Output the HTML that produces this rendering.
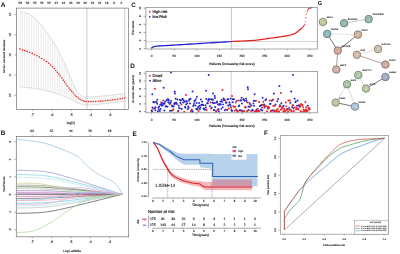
<!DOCTYPE html>
<html><head><meta charset="utf-8"><style>
html,body{margin:0;padding:0;background:#fff;width:400px;height:254px;overflow:hidden}
svg{display:block;filter:blur(0.2px)}
text{font-family:"Liberation Sans",sans-serif;text-rendering:geometricPrecision}
</style></head><body>
<svg width="400" height="254" viewBox="0 0 400 254">
<rect width="400" height="254" fill="#fff"/>
<text x="0.7" y="7" font-size="6.6" text-anchor="start" fill="#111" font-weight="bold" >A</text>
<line x1="20" y1="11.8" x2="20" y2="87" stroke="#dadada" stroke-width="0.55" />
<line x1="22.33" y1="12.26" x2="22.33" y2="87.2" stroke="#dadada" stroke-width="0.55" />
<line x1="24.67" y1="12.76" x2="24.67" y2="87.38" stroke="#dadada" stroke-width="0.55" />
<line x1="27" y1="13.4" x2="27" y2="87.58" stroke="#dadada" stroke-width="0.55" />
<line x1="29.33" y1="14.34" x2="29.33" y2="87.8" stroke="#dadada" stroke-width="0.55" />
<line x1="31.67" y1="15.77" x2="31.67" y2="88.05" stroke="#dadada" stroke-width="0.55" />
<line x1="34" y1="17.59" x2="34" y2="88.34" stroke="#dadada" stroke-width="0.55" />
<line x1="36.33" y1="19.72" x2="36.33" y2="88.71" stroke="#dadada" stroke-width="0.55" />
<line x1="38.67" y1="22.11" x2="38.67" y2="89.13" stroke="#dadada" stroke-width="0.55" />
<line x1="41" y1="24.71" x2="41" y2="89.58" stroke="#dadada" stroke-width="0.55" />
<line x1="43.33" y1="27.55" x2="43.33" y2="90.07" stroke="#dadada" stroke-width="0.55" />
<line x1="45.67" y1="30.64" x2="45.67" y2="90.6" stroke="#dadada" stroke-width="0.55" />
<line x1="48" y1="33.94" x2="48" y2="91.16" stroke="#dadada" stroke-width="0.55" />
<line x1="50.33" y1="37.4" x2="50.33" y2="91.76" stroke="#dadada" stroke-width="0.55" />
<line x1="52.67" y1="41.06" x2="52.67" y2="92.41" stroke="#dadada" stroke-width="0.55" />
<line x1="55" y1="44.92" x2="55" y2="93.11" stroke="#dadada" stroke-width="0.55" />
<line x1="57.33" y1="48.91" x2="57.33" y2="93.88" stroke="#dadada" stroke-width="0.55" />
<line x1="59.67" y1="53.01" x2="59.67" y2="94.71" stroke="#dadada" stroke-width="0.55" />
<line x1="62" y1="57.35" x2="62" y2="95.59" stroke="#dadada" stroke-width="0.55" />
<line x1="64.33" y1="62.77" x2="64.33" y2="96.5" stroke="#dadada" stroke-width="0.55" />
<line x1="66.67" y1="68.47" x2="66.67" y2="97.45" stroke="#dadada" stroke-width="0.55" />
<line x1="69" y1="74.18" x2="69" y2="98.43" stroke="#dadada" stroke-width="0.55" />
<line x1="71.33" y1="79.63" x2="71.33" y2="99.53" stroke="#dadada" stroke-width="0.55" />
<line x1="73.67" y1="84.8" x2="73.67" y2="100.73" stroke="#dadada" stroke-width="0.55" />
<line x1="76" y1="89.42" x2="76" y2="101.93" stroke="#dadada" stroke-width="0.55" />
<line x1="78.33" y1="92.63" x2="78.33" y2="103.03" stroke="#dadada" stroke-width="0.55" />
<line x1="80.67" y1="94.79" x2="80.67" y2="103.88" stroke="#dadada" stroke-width="0.55" />
<line x1="83" y1="96.52" x2="83" y2="104.46" stroke="#dadada" stroke-width="0.55" />
<line x1="85.33" y1="97.25" x2="85.33" y2="104.74" stroke="#dadada" stroke-width="0.55" />
<line x1="87.67" y1="97.14" x2="87.67" y2="104.89" stroke="#dadada" stroke-width="0.55" />
<line x1="90" y1="96.99" x2="90" y2="104.89" stroke="#dadada" stroke-width="0.55" />
<line x1="92.33" y1="96.81" x2="92.33" y2="104.78" stroke="#dadada" stroke-width="0.55" />
<line x1="94.67" y1="96.63" x2="94.67" y2="104.62" stroke="#dadada" stroke-width="0.55" />
<line x1="97" y1="96.44" x2="97" y2="104.43" stroke="#dadada" stroke-width="0.55" />
<line x1="99.33" y1="96.25" x2="99.33" y2="104.21" stroke="#dadada" stroke-width="0.55" />
<line x1="101.67" y1="96.06" x2="101.67" y2="103.96" stroke="#dadada" stroke-width="0.55" />
<line x1="104" y1="95.86" x2="104" y2="103.7" stroke="#dadada" stroke-width="0.55" />
<line x1="106.33" y1="95.65" x2="106.33" y2="103.43" stroke="#dadada" stroke-width="0.55" />
<line x1="108.67" y1="95.43" x2="108.67" y2="103.16" stroke="#dadada" stroke-width="0.55" />
<line x1="111" y1="95.2" x2="111" y2="102.88" stroke="#dadada" stroke-width="0.55" />
<line x1="113.33" y1="94.95" x2="113.33" y2="102.58" stroke="#dadada" stroke-width="0.55" />
<line x1="115.67" y1="94.69" x2="115.67" y2="102.27" stroke="#dadada" stroke-width="0.55" />
<line x1="118" y1="94.42" x2="118" y2="101.96" stroke="#dadada" stroke-width="0.55" />
<line x1="120.33" y1="94.15" x2="120.33" y2="101.64" stroke="#dadada" stroke-width="0.55" />
<line x1="122.67" y1="93.87" x2="122.67" y2="101.32" stroke="#dadada" stroke-width="0.55" />
<line x1="125" y1="93.6" x2="125" y2="101" stroke="#dadada" stroke-width="0.55" />
<polyline points="20.2,11.8 20.79,11.95 21.56,12.11 22.46,12.29 23.48,12.49 24.57,12.73 25.71,13.02 26.88,13.36 28.03,13.76 29.15,14.24 30.2,14.8 31.21,15.44 32.21,16.16 33.22,16.94 34.23,17.78 35.24,18.69 36.26,19.64 37.27,20.65 38.28,21.69 39.29,22.78 40.3,23.9 41.31,25.06 42.32,26.28 43.33,27.54 44.34,28.85 45.35,30.21 46.36,31.6 47.37,33.03 48.38,34.49 49.39,35.98 50.4,37.5 51.44,39.11 52.53,40.83 53.64,42.65 54.76,44.51 55.86,46.38 56.94,48.22 57.96,49.99 58.9,51.65 59.76,53.17 60.5,54.5 61.12,55.63 61.62,56.59 62.04,57.42 62.38,58.14 62.66,58.78 62.92,59.38 63.16,59.98 63.41,60.59 63.68,61.25 64,62 64.35,62.8 64.69,63.62 65.03,64.45 65.38,65.28 65.72,66.12 66.06,66.98 66.41,67.84 66.77,68.72 67.13,69.61 67.5,70.5 67.87,71.4 68.24,72.31 68.62,73.23 68.99,74.16 69.38,75.09 69.77,76.04 70.17,77.01 70.6,77.99 71.04,78.98 71.5,80 71.99,81.06 72.49,82.19 73.01,83.35 73.55,84.54 74.1,85.73 74.66,86.9 75.24,88.03 75.82,89.11 76.41,90.1 77,91 77.62,91.81 78.28,92.58 78.97,93.29 79.68,93.95 80.38,94.56 81.07,95.12 81.73,95.62 82.35,96.07 82.91,96.46 83.4,96.8 83.79,97.06 84.06,97.24 84.26,97.35 84.41,97.4 84.54,97.4 84.68,97.37 84.87,97.32 85.13,97.27 85.5,97.22 86,97.2 86.61,97.18 87.29,97.16 88.04,97.12 88.85,97.07 89.72,97.01 90.66,96.94 91.66,96.86 92.71,96.78 93.83,96.69 95,96.6 96.26,96.5 97.62,96.39 99.06,96.27 100.57,96.15 102.12,96.02 103.71,95.88 105.31,95.74 106.9,95.6 108.47,95.45 110,95.3 111.57,95.14 113.24,94.96 114.97,94.77 116.72,94.57 118.44,94.37 120.08,94.18 121.6,94 122.96,93.84 124.11,93.7 125,93.6" stroke="#cfcfcf" stroke-width="0.7" fill="none" stroke-linejoin="round" stroke-linecap="round" />
<polyline points="20,87 20.93,87.08 22.11,87.18 23.51,87.29 25.07,87.41 26.77,87.56 28.55,87.72 30.38,87.9 32.21,88.11 33.99,88.34 35.7,88.6 37.38,88.89 39.09,89.21 40.84,89.55 42.62,89.92 44.39,90.31 46.17,90.71 47.93,91.14 49.66,91.58 51.36,92.03 53,92.5 54.61,92.99 56.21,93.5 57.8,94.04 59.36,94.59 60.89,95.16 62.4,95.74 63.87,96.31 65.29,96.89 66.67,97.45 68,98 69.28,98.56 70.52,99.13 71.72,99.72 72.88,100.32 74,100.9 75.08,101.46 76.12,102 77.12,102.49 78.08,102.92 79,103.3 79.85,103.61 80.62,103.87 81.33,104.08 81.99,104.26 82.62,104.39 83.25,104.5 83.88,104.59 84.54,104.67 85.24,104.74 86,104.8 86.79,104.86 87.58,104.89 88.36,104.91 89.17,104.91 90,104.89 90.87,104.86 91.8,104.82 92.78,104.76 93.85,104.68 95,104.6 96.26,104.5 97.62,104.38 99.06,104.24 100.57,104.08 102.12,103.91 103.71,103.74 105.31,103.55 106.9,103.37 108.47,103.18 110,103 111.57,102.81 113.24,102.59 114.97,102.37 116.72,102.13 118.44,101.9 120.08,101.68 121.6,101.47 122.96,101.28 124.11,101.12 125,101" stroke="#cfcfcf" stroke-width="0.7" fill="none" stroke-linejoin="round" stroke-linecap="round" />
<line x1="86.9" y1="8.1" x2="86.9" y2="109.4" stroke="#b0b0b0" stroke-width="0.65" />
<line x1="124.8" y1="8.1" x2="124.8" y2="109.4" stroke="#b0b0b0" stroke-width="0.65" />
<circle cx="20" cy="49" r="0.8" fill="#e42020"/>
<circle cx="22.6" cy="49.89" r="0.8" fill="#e42020"/>
<circle cx="24.75" cy="50.59" r="0.8" fill="#e42020"/>
<circle cx="27.16" cy="51.42" r="0.8" fill="#e42020"/>
<circle cx="29.7" cy="52.35" r="0.8" fill="#e42020"/>
<circle cx="32.23" cy="53.38" r="0.8" fill="#e42020"/>
<circle cx="34.6" cy="54.5" r="0.8" fill="#e42020"/>
<circle cx="36.91" cy="55.73" r="0.8" fill="#e42020"/>
<circle cx="39.31" cy="57.08" r="0.8" fill="#e42020"/>
<circle cx="41.74" cy="58.53" r="0.8" fill="#e42020"/>
<circle cx="44.15" cy="60.07" r="0.8" fill="#e42020"/>
<circle cx="46.47" cy="61.67" r="0.8" fill="#e42020"/>
<circle cx="48.65" cy="63.3" r="0.8" fill="#e42020"/>
<circle cx="50.64" cy="64.96" r="0.8" fill="#e42020"/>
<circle cx="52.48" cy="66.71" r="0.8" fill="#e42020"/>
<circle cx="54.2" cy="68.56" r="0.8" fill="#e42020"/>
<circle cx="55.82" cy="70.44" r="0.8" fill="#e42020"/>
<circle cx="57.34" cy="72.33" r="0.8" fill="#e42020"/>
<circle cx="58.78" cy="74.18" r="0.8" fill="#e42020"/>
<circle cx="60.15" cy="75.94" r="0.8" fill="#e42020"/>
<circle cx="61.84" cy="78.11" r="0.8" fill="#e42020"/>
<circle cx="63.28" cy="80.16" r="0.8" fill="#e42020"/>
<circle cx="64.58" cy="82.12" r="0.8" fill="#e42020"/>
<circle cx="65.89" cy="84.05" r="0.8" fill="#e42020"/>
<circle cx="67.31" cy="86" r="0.8" fill="#e42020"/>
<circle cx="68.97" cy="88.06" r="0.8" fill="#e42020"/>
<circle cx="70.35" cy="89.71" r="0.8" fill="#e42020"/>
<circle cx="71.78" cy="91.37" r="0.8" fill="#e42020"/>
<circle cx="73.21" cy="92.98" r="0.8" fill="#e42020"/>
<circle cx="74.99" cy="94.93" r="0.8" fill="#e42020"/>
<circle cx="76.5" cy="96.5" r="0.8" fill="#e42020"/>
<circle cx="78.17" cy="98.04" r="0.8" fill="#e42020"/>
<circle cx="79.98" cy="99.25" r="0.8" fill="#e42020"/>
<circle cx="81.99" cy="100.35" r="0.8" fill="#e42020"/>
<circle cx="83.94" cy="101.15" r="0.8" fill="#e42020"/>
<circle cx="86.13" cy="101.48" r="0.8" fill="#e42020"/>
<circle cx="88.61" cy="101.61" r="0.8" fill="#e42020"/>
<circle cx="91.03" cy="101.62" r="0.8" fill="#e42020"/>
<circle cx="93.22" cy="101.57" r="0.8" fill="#e42020"/>
<circle cx="95.63" cy="101.47" r="0.8" fill="#e42020"/>
<circle cx="98.37" cy="101.32" r="0.8" fill="#e42020"/>
<circle cx="100.61" cy="101.17" r="0.8" fill="#e42020"/>
<circle cx="102.95" cy="100.99" r="0.8" fill="#e42020"/>
<circle cx="105.33" cy="100.78" r="0.8" fill="#e42020"/>
<circle cx="107.7" cy="100.55" r="0.8" fill="#e42020"/>
<circle cx="110" cy="100.3" r="0.8" fill="#e42020"/>
<circle cx="112.39" cy="99.99" r="0.8" fill="#e42020"/>
<circle cx="114.97" cy="99.62" r="0.8" fill="#e42020"/>
<circle cx="117.59" cy="99.21" r="0.8" fill="#e42020"/>
<circle cx="120.08" cy="98.81" r="0.8" fill="#e42020"/>
<circle cx="122.3" cy="98.44" r="0.8" fill="#e42020"/>
<circle cx="124.59" cy="98.06" r="0.8" fill="#e42020"/>
<rect x="16.4" y="8.1" width="112" height="101.3" stroke="#707070" stroke-width="0.7" fill="none" />
<text x="20.2" y="3.9" font-size="3.1" text-anchor="middle" fill="#1e1e1e" font-weight="normal" stroke="#1e1e1e" stroke-width="0.12" >59</text>
<text x="27.42" y="3.9" font-size="3.1" text-anchor="middle" fill="#1e1e1e" font-weight="normal" stroke="#1e1e1e" stroke-width="0.12" >59</text>
<text x="34.64" y="3.9" font-size="3.1" text-anchor="middle" fill="#1e1e1e" font-weight="normal" stroke="#1e1e1e" stroke-width="0.12" >55</text>
<text x="41.86" y="3.9" font-size="3.1" text-anchor="middle" fill="#1e1e1e" font-weight="normal" stroke="#1e1e1e" stroke-width="0.12" >52</text>
<text x="49.08" y="3.9" font-size="3.1" text-anchor="middle" fill="#1e1e1e" font-weight="normal" stroke="#1e1e1e" stroke-width="0.12" >52</text>
<text x="56.3" y="3.9" font-size="3.1" text-anchor="middle" fill="#1e1e1e" font-weight="normal" stroke="#1e1e1e" stroke-width="0.12" >47</text>
<text x="63.52" y="3.9" font-size="3.1" text-anchor="middle" fill="#1e1e1e" font-weight="normal" stroke="#1e1e1e" stroke-width="0.12" >44</text>
<text x="70.74" y="3.9" font-size="3.1" text-anchor="middle" fill="#1e1e1e" font-weight="normal" stroke="#1e1e1e" stroke-width="0.12" >36</text>
<text x="77.96" y="3.9" font-size="3.1" text-anchor="middle" fill="#1e1e1e" font-weight="normal" stroke="#1e1e1e" stroke-width="0.12" >29</text>
<text x="85.18" y="3.9" font-size="3.1" text-anchor="middle" fill="#1e1e1e" font-weight="normal" stroke="#1e1e1e" stroke-width="0.12" >26</text>
<text x="92.4" y="3.9" font-size="3.1" text-anchor="middle" fill="#1e1e1e" font-weight="normal" stroke="#1e1e1e" stroke-width="0.12" >23</text>
<text x="99.62" y="3.9" font-size="3.1" text-anchor="middle" fill="#1e1e1e" font-weight="normal" stroke="#1e1e1e" stroke-width="0.12" >21</text>
<text x="106.84" y="3.9" font-size="3.1" text-anchor="middle" fill="#1e1e1e" font-weight="normal" stroke="#1e1e1e" stroke-width="0.12" >18</text>
<text x="114.06" y="3.9" font-size="3.1" text-anchor="middle" fill="#1e1e1e" font-weight="normal" stroke="#1e1e1e" stroke-width="0.12" >9</text>
<text x="121.28" y="3.9" font-size="3.1" text-anchor="middle" fill="#1e1e1e" font-weight="normal" stroke="#1e1e1e" stroke-width="0.12" >3</text>
<text x="11.4" y="14.5" font-size="3" text-anchor="middle" fill="#1e1e1e" font-weight="normal" stroke="#1e1e1e" stroke-width="0.12" transform="rotate(-90 11.4 14.5)" >14</text>
<line x1="14.5" y1="14.5" x2="16.4" y2="14.5" stroke="#707070" stroke-width="0.6" />
<text x="11.4" y="34.7" font-size="3" text-anchor="middle" fill="#1e1e1e" font-weight="normal" stroke="#1e1e1e" stroke-width="0.12" transform="rotate(-90 11.4 34.7)" >13</text>
<line x1="14.5" y1="34.7" x2="16.4" y2="34.7" stroke="#707070" stroke-width="0.6" />
<text x="11.4" y="54.9" font-size="3" text-anchor="middle" fill="#1e1e1e" font-weight="normal" stroke="#1e1e1e" stroke-width="0.12" transform="rotate(-90 11.4 54.9)" >12</text>
<line x1="14.5" y1="54.9" x2="16.4" y2="54.9" stroke="#707070" stroke-width="0.6" />
<text x="11.4" y="75.1" font-size="3" text-anchor="middle" fill="#1e1e1e" font-weight="normal" stroke="#1e1e1e" stroke-width="0.12" transform="rotate(-90 11.4 75.1)" >11</text>
<line x1="14.5" y1="75.1" x2="16.4" y2="75.1" stroke="#707070" stroke-width="0.6" />
<text x="11.4" y="95.3" font-size="3" text-anchor="middle" fill="#1e1e1e" font-weight="normal" stroke="#1e1e1e" stroke-width="0.12" transform="rotate(-90 11.4 95.3)" >10</text>
<line x1="14.5" y1="95.3" x2="16.4" y2="95.3" stroke="#707070" stroke-width="0.6" />
<text x="4.6" y="56.5" font-size="2.8" text-anchor="middle" fill="#1e1e1e" font-weight="normal" stroke="#1e1e1e" stroke-width="0.11" transform="rotate(-90 4.6 56.5)" >Partial Likelihood Deviance</text>
<text x="32.4" y="116.3" font-size="3.4" text-anchor="middle" fill="#1e1e1e" font-weight="normal" stroke="#1e1e1e" stroke-width="0.14" >-7</text>
<line x1="32.4" y1="109.4" x2="32.4" y2="110.9" stroke="#707070" stroke-width="0.6" />
<text x="51.8" y="116.3" font-size="3.4" text-anchor="middle" fill="#1e1e1e" font-weight="normal" stroke="#1e1e1e" stroke-width="0.14" >-6</text>
<line x1="51.8" y1="109.4" x2="51.8" y2="110.9" stroke="#707070" stroke-width="0.6" />
<text x="71.2" y="116.3" font-size="3.4" text-anchor="middle" fill="#1e1e1e" font-weight="normal" stroke="#1e1e1e" stroke-width="0.14" >-5</text>
<line x1="71.2" y1="109.4" x2="71.2" y2="110.9" stroke="#707070" stroke-width="0.6" />
<text x="90.6" y="116.3" font-size="3.4" text-anchor="middle" fill="#1e1e1e" font-weight="normal" stroke="#1e1e1e" stroke-width="0.14" >-4</text>
<line x1="90.6" y1="109.4" x2="90.6" y2="110.9" stroke="#707070" stroke-width="0.6" />
<text x="110" y="116.3" font-size="3.4" text-anchor="middle" fill="#1e1e1e" font-weight="normal" stroke="#1e1e1e" stroke-width="0.14" >-3</text>
<line x1="110" y1="109.4" x2="110" y2="110.9" stroke="#707070" stroke-width="0.6" />
<text x="70.8" y="123.5" font-size="3.3" text-anchor="middle" fill="#1e1e1e" font-weight="normal" stroke="#1e1e1e" stroke-width="0.13" >log(λ)</text>
<text x="0.8" y="134.9" font-size="6.4" text-anchor="start" fill="#111" font-weight="bold" >B</text>
<polyline points="17.5,170.28 19.25,170.3 20.99,170.33 22.74,170.37 24.49,170.4 26.23,170.45 27.98,170.49 29.73,170.55 31.47,170.61 33.22,170.69 34.97,170.77 36.71,170.87 38.46,170.99 40.21,171.13 41.95,171.3 43.7,171.49 45.45,171.72 47.19,171.99 48.94,172.29 50.69,172.62 52.43,173 54.18,173.4 55.93,173.83 57.67,174.28 59.42,174.75 61.17,175.23 62.91,175.73 64.66,176.24 66.41,176.76 68.15,177.28 69.9,177.81 71.65,178.34 73.39,178.88 75.14,179.43 76.89,179.97 78.63,180.52 80.38,181.07 82.13,181.63 83.87,182.18 85.62,182.74 87.37,183.29 89.11,183.85 90.86,184.41 92.61,184.97 94.35,185.54 96.1,186.1 97.85,186.66 99.59,187.23 101.34,187.79 103.09,188.36 104.83,188.92 106.58,189.49 108.33,190.05 110.07,190.62 111.82,191.19 113.57,191.76 115.31,192.32 117.06,192.89 118.81,193.46 120.55,194.03 122.3,194.4" stroke="#a49cc8" stroke-width="0.8" fill="none" stroke-linejoin="round" stroke-linecap="round" />
<polyline points="17.5,174.51 19.25,174.54 20.99,174.56 22.74,174.59 24.49,174.62 26.23,174.66 27.98,174.71 29.73,174.76 31.47,174.81 33.22,174.88 34.97,174.96 36.71,175.05 38.46,175.16 40.21,175.28 41.95,175.43 43.7,175.61 45.45,175.81 47.19,176.05 48.94,176.31 50.69,176.6 52.43,176.92 54.18,177.26 55.93,177.62 57.67,177.99 59.42,178.38 61.17,178.78 62.91,179.19 64.66,179.61 66.41,180.03 68.15,180.46 69.9,180.89 71.65,181.33 73.39,181.77 75.14,182.21 76.89,182.66 78.63,183.1 80.38,183.55 82.13,184 83.87,184.46 85.62,184.91 87.37,185.36 89.11,185.82 90.86,186.27 92.61,186.73 94.35,187.19 96.1,187.65 97.85,188.11 99.59,188.56 101.34,189.02 103.09,189.48 104.83,189.94 106.58,190.4 108.33,190.87 110.07,191.33 111.82,191.79 113.57,192.25 115.31,192.71 117.06,193.17 118.81,193.64 120.55,194.1 122.3,194.4" stroke="#88d4dc" stroke-width="0.8" fill="none" stroke-linejoin="round" stroke-linecap="round" />
<polyline points="17.5,177.26 19.25,177.28 20.99,177.31 22.74,177.33 24.49,177.36 26.23,177.4 27.98,177.44 29.73,177.48 31.47,177.53 33.22,177.59 34.97,177.67 36.71,177.75 38.46,177.85 40.21,177.96 41.95,178.1 43.7,178.25 45.45,178.44 47.19,178.64 48.94,178.88 50.69,179.13 52.43,179.41 54.18,179.7 55.93,180.01 57.67,180.34 59.42,180.67 61.17,181.02 62.91,181.37 64.66,181.73 66.41,182.09 68.15,182.46 69.9,182.83 71.65,183.21 73.39,183.58 75.14,183.96 76.89,184.35 78.63,184.73 80.38,185.11 82.13,185.5 83.87,185.89 85.62,186.27 87.37,186.66 89.11,187.05 90.86,187.44 92.61,187.83 94.35,188.23 96.1,188.62 97.85,189.01 99.59,189.4 101.34,189.8 103.09,190.19 104.83,190.59 106.58,190.98 108.33,191.38 110.07,191.77 111.82,192.17 113.57,192.56 115.31,192.96 117.06,193.35 118.81,193.75 120.55,194.14 122.3,194.4" stroke="#bce8ee" stroke-width="0.8" fill="none" stroke-linejoin="round" stroke-linecap="round" />
<polyline points="17.5,185.1 19.25,185.11 20.99,185.13 22.74,185.14 24.49,185.16 26.23,185.18 27.98,185.2 29.73,185.23 31.47,185.26 33.22,185.29 34.97,185.33 36.71,185.38 38.46,185.43 40.21,185.5 41.95,185.57 43.7,185.66 45.45,185.77 47.19,185.88 48.94,186.01 50.69,186.15 52.43,186.3 54.18,186.47 55.93,186.64 57.67,186.81 59.42,186.99 61.17,187.18 62.91,187.37 64.66,187.57 66.41,187.76 68.15,187.96 69.9,188.16 71.65,188.36 73.39,188.57 75.14,188.77 76.89,188.98 78.63,189.19 80.38,189.39 82.13,189.6 83.87,189.81 85.62,190.02 87.37,190.23 89.11,190.44 90.86,190.65 92.61,190.86 94.35,191.07 96.1,191.28 97.85,191.49 99.59,191.71 101.34,191.92 103.09,192.13 104.83,192.34 106.58,192.56 108.33,192.77 110.07,192.98 111.82,193.2 113.57,193.41 115.31,193.62 117.06,193.84 118.81,194.05 120.55,194.26 122.3,194.4" stroke="#9aa88a" stroke-width="0.8" fill="none" stroke-linejoin="round" stroke-linecap="round" />
<polyline points="17.5,186.77 19.25,186.78 20.99,186.79 22.74,186.8 24.49,186.82 26.23,186.83 27.98,186.85 29.73,186.87 31.47,186.9 33.22,186.93 34.97,186.96 36.71,187 38.46,187.05 40.21,187.1 41.95,187.16 43.7,187.24 45.45,187.32 47.19,187.42 48.94,187.53 50.69,187.64 52.43,187.77 54.18,187.9 55.93,188.04 57.67,188.19 59.42,188.34 61.17,188.49 62.91,188.65 64.66,188.81 66.41,188.97 68.15,189.13 69.9,189.29 71.65,189.46 73.39,189.63 75.14,189.79 76.89,189.96 78.63,190.13 80.38,190.3 82.13,190.47 83.87,190.64 85.62,190.82 87.37,190.99 89.11,191.16 90.86,191.33 92.61,191.5 94.35,191.68 96.1,191.85 97.85,192.02 99.59,192.2 101.34,192.37 103.09,192.54 104.83,192.72 106.58,192.89 108.33,193.07 110.07,193.24 111.82,193.41 113.57,193.59 115.31,193.76 117.06,193.94 118.81,194.11 120.55,194.29 122.3,194.4" stroke="#5a6e5a" stroke-width="0.8" fill="none" stroke-linejoin="round" stroke-linecap="round" />
<polyline points="17.5,188.53 19.25,188.54 20.99,188.55 22.74,188.56 24.49,188.57 26.23,188.58 27.98,188.6 29.73,188.61 31.47,188.63 33.22,188.65 34.97,188.68 36.71,188.71 38.46,188.75 40.21,188.79 41.95,188.84 43.7,188.9 45.45,188.97 47.19,189.04 48.94,189.13 50.69,189.22 52.43,189.31 54.18,189.42 55.93,189.52 57.67,189.64 59.42,189.75 61.17,189.87 62.91,189.99 64.66,190.11 66.41,190.23 68.15,190.36 69.9,190.49 71.65,190.61 73.39,190.74 75.14,190.87 76.89,191 78.63,191.13 80.38,191.26 82.13,191.39 83.87,191.52 85.62,191.65 87.37,191.78 89.11,191.92 90.86,192.05 92.61,192.18 94.35,192.31 96.1,192.45 97.85,192.58 99.59,192.71 101.34,192.84 103.09,192.98 104.83,193.11 106.58,193.24 108.33,193.38 110.07,193.51 111.82,193.64 113.57,193.78 115.31,193.91 117.06,194.05 118.81,194.18 120.55,194.31 122.3,194.4" stroke="#b4dcac" stroke-width="0.8" fill="none" stroke-linejoin="round" stroke-linecap="round" />
<polyline points="17.5,190.59 19.25,190.59 20.99,190.6 22.74,190.6 24.49,190.61 26.23,190.62 27.98,190.63 29.73,190.64 31.47,190.66 33.22,190.67 34.97,190.69 36.71,190.71 38.46,190.74 40.21,190.76 41.95,190.8 43.7,190.84 45.45,190.88 47.19,190.93 48.94,190.99 50.69,191.05 52.43,191.11 54.18,191.18 55.93,191.25 57.67,191.32 59.42,191.4 61.17,191.47 62.91,191.55 64.66,191.63 66.41,191.71 68.15,191.79 69.9,191.87 71.65,191.95 73.39,192.04 75.14,192.12 76.89,192.2 78.63,192.29 80.38,192.37 82.13,192.46 83.87,192.54 85.62,192.63 87.37,192.71 89.11,192.8 90.86,192.88 92.61,192.97 94.35,193.05 96.1,193.14 97.85,193.22 99.59,193.31 101.34,193.4 103.09,193.48 104.83,193.57 106.58,193.65 108.33,193.74 110.07,193.83 111.82,193.91 113.57,194 115.31,194.09 117.06,194.17 118.81,194.26 120.55,194.34 122.3,194.4" stroke="#9a90b4" stroke-width="0.8" fill="none" stroke-linejoin="round" stroke-linecap="round" />
<polyline points="17.5,192.74 19.25,192.74 20.99,192.74 22.74,192.75 24.49,192.75 26.23,192.75 27.98,192.76 29.73,192.76 31.47,192.77 33.22,192.78 34.97,192.79 36.71,192.8 38.46,192.81 40.21,192.82 41.95,192.84 43.7,192.85 45.45,192.87 47.19,192.9 48.94,192.92 50.69,192.95 52.43,192.97 54.18,193 55.93,193.03 57.67,193.07 59.42,193.1 61.17,193.13 62.91,193.17 64.66,193.2 66.41,193.23 68.15,193.27 69.9,193.31 71.65,193.34 73.39,193.38 75.14,193.41 76.89,193.45 78.63,193.49 80.38,193.52 82.13,193.56 83.87,193.6 85.62,193.63 87.37,193.67 89.11,193.71 90.86,193.74 92.61,193.78 94.35,193.82 96.1,193.85 97.85,193.89 99.59,193.93 101.34,193.97 103.09,194 104.83,194.04 106.58,194.08 108.33,194.11 110.07,194.15 111.82,194.19 113.57,194.23 115.31,194.26 117.06,194.3 118.81,194.34 120.55,194.38 122.3,194.4" stroke="#c464cc" stroke-width="0.8" fill="none" stroke-linejoin="round" stroke-linecap="round" />
<polyline points="17.5,194.2 19.25,194.21 20.99,194.21 22.74,194.21 24.49,194.21 26.23,194.21 27.98,194.21 29.73,194.21 31.47,194.21 33.22,194.21 34.97,194.21 36.71,194.21 38.46,194.21 40.21,194.22 41.95,194.22 43.7,194.22 45.45,194.22 47.19,194.22 48.94,194.23 50.69,194.23 52.43,194.23 54.18,194.24 55.93,194.24 57.67,194.24 59.42,194.25 61.17,194.25 62.91,194.26 64.66,194.26 66.41,194.26 68.15,194.27 69.9,194.27 71.65,194.28 73.39,194.28 75.14,194.29 76.89,194.29 78.63,194.29 80.38,194.3 82.13,194.3 83.87,194.31 85.62,194.31 87.37,194.32 89.11,194.32 90.86,194.32 92.61,194.33 94.35,194.33 96.1,194.34 97.85,194.34 99.59,194.35 101.34,194.35 103.09,194.35 104.83,194.36 106.58,194.36 108.33,194.37 110.07,194.37 111.82,194.38 113.57,194.38 115.31,194.38 117.06,194.39 118.81,194.39 120.55,194.4 122.3,194.4" stroke="#303030" stroke-width="0.8" fill="none" stroke-linejoin="round" stroke-linecap="round" />
<polyline points="17.5,196.35 19.25,196.35 20.99,196.35 22.74,196.34 24.49,196.34 26.23,196.34 27.98,196.33 29.73,196.32 31.47,196.32 33.22,196.31 34.97,196.3 36.71,196.29 38.46,196.27 40.21,196.26 41.95,196.24 43.7,196.22 45.45,196.2 47.19,196.17 48.94,196.14 50.69,196.11 52.43,196.08 54.18,196.04 55.93,196.01 57.67,195.97 59.42,195.93 61.17,195.89 62.91,195.85 64.66,195.81 66.41,195.77 68.15,195.73 69.9,195.69 71.65,195.65 73.39,195.6 75.14,195.56 76.89,195.52 78.63,195.48 80.38,195.43 82.13,195.39 83.87,195.35 85.62,195.3 87.37,195.26 89.11,195.22 90.86,195.17 92.61,195.13 94.35,195.09 96.1,195.04 97.85,195 99.59,194.96 101.34,194.91 103.09,194.87 104.83,194.82 106.58,194.78 108.33,194.74 110.07,194.69 111.82,194.65 113.57,194.6 115.31,194.56 117.06,194.52 118.81,194.47 120.55,194.43 122.3,194.4" stroke="#e070b8" stroke-width="0.8" fill="none" stroke-linejoin="round" stroke-linecap="round" />
<polyline points="17.5,198.41 19.25,198.4 20.99,198.4 22.74,198.39 24.49,198.38 26.23,198.37 27.98,198.36 29.73,198.35 31.47,198.34 33.22,198.32 34.97,198.3 36.71,198.28 38.46,198.25 40.21,198.22 41.95,198.19 43.7,198.14 45.45,198.1 47.19,198.04 48.94,197.99 50.69,197.92 52.43,197.86 54.18,197.79 55.93,197.71 57.67,197.64 59.42,197.56 61.17,197.48 62.91,197.4 64.66,197.31 66.41,197.23 68.15,197.14 69.9,197.06 71.65,196.97 73.39,196.88 75.14,196.8 76.89,196.71 78.63,196.62 80.38,196.53 82.13,196.44 83.87,196.35 85.62,196.27 87.37,196.18 89.11,196.09 90.86,196 92.61,195.91 94.35,195.82 96.1,195.73 97.85,195.64 99.59,195.55 101.34,195.46 103.09,195.37 104.83,195.28 106.58,195.18 108.33,195.09 110.07,195 111.82,194.91 113.57,194.82 115.31,194.73 117.06,194.64 118.81,194.55 120.55,194.46 122.3,194.4" stroke="#6c6c6c" stroke-width="0.8" fill="none" stroke-linejoin="round" stroke-linecap="round" />
<polyline points="17.5,200.56 19.25,200.55 20.99,200.55 22.74,200.54 24.49,200.52 26.23,200.51 27.98,200.49 29.73,200.48 31.47,200.46 33.22,200.43 34.97,200.4 36.71,200.37 38.46,200.33 40.21,200.29 41.95,200.24 43.7,200.17 45.45,200.1 47.19,200.03 48.94,199.94 50.69,199.84 52.43,199.74 54.18,199.63 55.93,199.52 57.67,199.4 59.42,199.28 61.17,199.16 62.91,199.03 64.66,198.9 66.41,198.77 68.15,198.64 69.9,198.51 71.65,198.38 73.39,198.24 75.14,198.11 76.89,197.97 78.63,197.84 80.38,197.7 82.13,197.56 83.87,197.42 85.62,197.29 87.37,197.15 89.11,197.01 90.86,196.87 92.61,196.73 94.35,196.59 96.1,196.45 97.85,196.31 99.59,196.17 101.34,196.03 103.09,195.89 104.83,195.75 106.58,195.61 108.33,195.47 110.07,195.33 111.82,195.19 113.57,195.05 115.31,194.91 117.06,194.77 118.81,194.63 120.55,194.49 122.3,194.4" stroke="#f0a8c0" stroke-width="0.8" fill="none" stroke-linejoin="round" stroke-linecap="round" />
<polyline points="17.5,203.31 19.25,203.3 20.99,203.28 22.74,203.27 24.49,203.25 26.23,203.23 27.98,203.21 29.73,203.19 31.47,203.16 33.22,203.13 34.97,203.09 36.71,203.04 38.46,202.99 40.21,202.93 41.95,202.85 43.7,202.77 45.45,202.67 47.19,202.56 48.94,202.44 50.69,202.3 52.43,202.16 54.18,202 55.93,201.84 57.67,201.67 59.42,201.49 61.17,201.32 62.91,201.13 64.66,200.95 66.41,200.76 68.15,200.57 69.9,200.38 71.65,200.18 73.39,199.99 75.14,199.79 76.89,199.59 78.63,199.4 80.38,199.2 82.13,199 83.87,198.8 85.62,198.6 87.37,198.4 89.11,198.19 90.86,197.99 92.61,197.79 94.35,197.59 96.1,197.39 97.85,197.18 99.59,196.98 101.34,196.78 103.09,196.57 104.83,196.37 106.58,196.17 108.33,195.96 110.07,195.76 111.82,195.55 113.57,195.35 115.31,195.15 117.06,194.94 118.81,194.74 120.55,194.53 122.3,194.4" stroke="#74d0d8" stroke-width="0.8" fill="none" stroke-linejoin="round" stroke-linecap="round" />
<polyline points="17.5,205.85 19.25,205.84 20.99,205.82 22.74,205.8 24.49,205.78 26.23,205.76 27.98,205.73 29.73,205.7 31.47,205.66 33.22,205.62 34.97,205.57 36.71,205.51 38.46,205.44 40.21,205.36 41.95,205.27 43.7,205.16 45.45,205.03 47.19,204.89 48.94,204.73 50.69,204.56 52.43,204.37 54.18,204.17 55.93,203.96 57.67,203.75 59.42,203.52 61.17,203.29 62.91,203.06 64.66,202.82 66.41,202.58 68.15,202.33 69.9,202.08 71.65,201.83 73.39,201.58 75.14,201.33 76.89,201.08 78.63,200.82 80.38,200.57 82.13,200.31 83.87,200.05 85.62,199.8 87.37,199.54 89.11,199.28 90.86,199.02 92.61,198.76 94.35,198.5 96.1,198.24 97.85,197.98 99.59,197.72 101.34,197.46 103.09,197.19 104.83,196.93 106.58,196.67 108.33,196.41 110.07,196.15 111.82,195.88 113.57,195.62 115.31,195.36 117.06,195.1 118.81,194.83 120.55,194.57 122.3,194.4" stroke="#b0e4ee" stroke-width="0.8" fill="none" stroke-linejoin="round" stroke-linecap="round" />
<polyline points="17.5,208.01 19.25,207.99 20.99,207.98 22.74,207.95 24.49,207.93 26.23,207.9 27.98,207.87 29.73,207.84 31.47,207.8 33.22,207.75 34.97,207.69 36.71,207.63 38.46,207.55 40.21,207.46 41.95,207.35 43.7,207.23 45.45,207.08 47.19,206.92 48.94,206.73 50.69,206.53 52.43,206.31 54.18,206.07 55.93,205.83 57.67,205.57 59.42,205.3 61.17,205.03 62.91,204.75 64.66,204.46 66.41,204.18 68.15,203.88 69.9,203.59 71.65,203.29 73.39,202.99 75.14,202.69 76.89,202.39 78.63,202.08 80.38,201.78 82.13,201.47 83.87,201.16 85.62,200.85 87.37,200.55 89.11,200.24 90.86,199.93 92.61,199.61 94.35,199.3 96.1,198.99 97.85,198.68 99.59,198.37 101.34,198.06 103.09,197.74 104.83,197.43 106.58,197.12 108.33,196.8 110.07,196.49 111.82,196.18 113.57,195.86 115.31,195.55 117.06,195.23 118.81,194.92 120.55,194.6 122.3,194.4" stroke="#c4c4c4" stroke-width="0.8" fill="none" stroke-linejoin="round" stroke-linecap="round" />
<polyline points="17.5,213.31 19.25,213.29 20.99,213.26 22.74,213.23 24.49,213.2 26.23,213.16 27.98,213.12 29.73,213.08 31.47,213.02 33.22,212.96 34.97,212.88 36.71,212.8 38.46,212.69 40.21,212.57 41.95,212.43 43.7,212.26 45.45,212.07 47.19,211.85 48.94,211.6 50.69,211.32 52.43,211.02 54.18,210.7 55.93,210.36 57.67,210 59.42,209.63 61.17,209.25 62.91,208.86 64.66,208.47 66.41,208.06 68.15,207.65 69.9,207.24 71.65,206.83 73.39,206.41 75.14,205.99 76.89,205.56 78.63,205.14 80.38,204.71 82.13,204.28 83.87,203.85 85.62,203.42 87.37,202.99 89.11,202.56 90.86,202.13 92.61,201.69 94.35,201.26 96.1,200.82 97.85,200.38 99.59,199.95 101.34,199.51 103.09,199.07 104.83,198.64 106.58,198.2 108.33,197.76 110.07,197.32 111.82,196.88 113.57,196.44 115.31,196 117.06,195.56 118.81,195.12 120.55,194.69 122.3,194.4" stroke="#5c5c5c" stroke-width="0.8" fill="none" stroke-linejoin="round" stroke-linecap="round" />
<polyline points="17.5,190.8 19.25,190.78 21.6,190.75 24.4,190.72 27.5,190.69 30.76,190.64 34.02,190.58 37.15,190.5 40,190.4 42.62,190.27 45.18,190.12 47.68,189.94 50.16,189.75 52.61,189.55 55.06,189.36 57.52,189.17 60,189 62.5,188.81 65,188.59 67.5,188.36 70,188.14 72.5,187.96 75,187.82 77.5,187.76 80,187.8 82.48,187.94 84.95,188.17 87.4,188.47 89.86,188.83 92.33,189.23 94.84,189.65 97.39,190.08 100,190.5 102.83,190.96 105.94,191.48 109.17,192.05 112.4,192.62 115.47,193.17 118.24,193.67 120.56,194.09 122.3,194.4" stroke="#d6a6e6" stroke-width="0.7" fill="none" stroke-linejoin="round" stroke-linecap="round" />
<polyline points="17.5,200 19.25,199.97 21.6,199.95 24.4,199.92 27.5,199.88 30.76,199.82 34.02,199.73 37.15,199.59 40,199.4 42.65,199.15 45.29,198.85 47.9,198.5 50.47,198.12 52.98,197.72 55.41,197.31 57.76,196.9 60,196.5 62.08,196.09 63.98,195.64 65.77,195.16 67.5,194.69 69.23,194.24 71.02,193.83 72.92,193.48 75,193.2 77.21,193 79.48,192.85 81.81,192.75 84.23,192.69 86.75,192.68 89.37,192.69 92.12,192.73 95,192.8 98.25,192.92 101.95,193.1 105.9,193.32 109.9,193.58 113.74,193.83 117.22,194.07 120.14,194.26 122.3,194.4" stroke="#98c8e8" stroke-width="0.7" fill="none" stroke-linejoin="round" stroke-linecap="round" />
<polyline points="17.5,183.2 19.25,183.22 21.6,183.22 24.4,183.22 27.5,183.24 30.76,183.28 34.02,183.38 37.15,183.55 40,183.8 42.63,184.13 45.22,184.52 47.77,184.96 50.28,185.46 52.76,186.02 55.2,186.63 57.61,187.29 60,188 62.32,188.84 64.55,189.82 66.72,190.91 68.88,192.02 71.04,193.11 73.27,194.11 75.57,194.96 78,195.6 80.56,196.03 83.21,196.3 85.94,196.44 88.73,196.49 91.55,196.46 94.39,196.38 97.21,196.29 100,196.2 102.93,196.08 106.08,195.88 109.32,195.62 112.53,195.34 115.56,195.05 118.29,194.78 120.58,194.56 122.3,194.4" stroke="#c8c890" stroke-width="0.7" fill="none" stroke-linejoin="round" stroke-linecap="round" />
<polyline points="17.5,204.4 19.64,204.37 22.5,204.36 25.91,204.36 29.69,204.34 33.66,204.27 37.66,204.14 41.49,203.93 45,203.6 48.28,203.15 51.54,202.6 54.78,201.96 57.97,201.26 61.1,200.52 64.16,199.74 67.13,198.96 70,198.2 72.77,197.38 75.47,196.46 78.09,195.49 80.62,194.51 83.09,193.59 85.47,192.76 87.77,192.08 90,191.6 92.1,191.34 94.05,191.25 95.89,191.31 97.67,191.46 99.43,191.69 101.21,191.94 103.05,192.19 105,192.4 107.17,192.61 109.57,192.86 112.08,193.15 114.59,193.45 116.98,193.74 119.14,194.01 120.95,194.24 122.3,194.4" stroke="#f0b0d0" stroke-width="0.7" fill="none" stroke-linejoin="round" stroke-linecap="round" />
<polyline points="17.5,139.5 18.45,139.59 19.69,139.71 21.16,139.84 22.81,139.99 24.58,140.17 26.41,140.36 28.23,140.57 30,140.8 31.76,141.04 33.57,141.28 35.44,141.53 37.34,141.81 39.27,142.11 41.19,142.46 43.11,142.85 45,143.3 46.87,143.81 48.73,144.37 50.58,144.97 52.44,145.62 54.3,146.3 56.18,147.01 58.08,147.75 60,148.5 62.02,149.3 64.16,150.17 66.37,151.08 68.56,152.01 70.69,152.94 72.68,153.85 74.47,154.71 76,155.5 77.22,156.21 78.18,156.85 78.95,157.44 79.58,158.01 80.13,158.58 80.68,159.17 81.28,159.8 82,160.5 82.82,161.28 83.66,162.12 84.52,163.01 85.39,163.92 86.26,164.82 87.12,165.71 87.97,166.54 88.8,167.3 89.6,167.99 90.39,168.64 91.16,169.26 91.92,169.84 92.68,170.4 93.44,170.94 94.21,171.47 95,172 95.77,172.51 96.52,172.98 97.25,173.43 98,173.88 98.78,174.32 99.61,174.78 100.51,175.27 101.5,175.8 102.64,176.39 103.94,177.03 105.34,177.71 106.77,178.39 108.18,179.08 109.51,179.74 110.71,180.35 111.7,180.9 112.48,181.37 113.1,181.78 113.59,182.15 114,182.49 114.36,182.82 114.7,183.17 115.07,183.56 115.5,184 115.98,184.49 116.47,184.99 116.96,185.52 117.45,186.07 117.93,186.65 118.41,187.24 118.86,187.86 119.3,188.5 119.73,189.21 120.18,190.01 120.62,190.87 121.04,191.73 121.43,192.56 121.78,193.31 122.07,193.94 122.3,194.4" stroke="#90bcd8" stroke-width="0.7" fill="none" stroke-linejoin="round" stroke-linecap="round" />
<polyline points="17.5,232.5 18.49,232.44 19.83,232.38 21.43,232.31 23.19,232.22 25.02,232.12 26.83,231.98 28.52,231.81 30,231.6 31.28,231.36 32.45,231.1 33.54,230.82 34.59,230.51 35.63,230.15 36.69,229.76 37.8,229.31 39,228.8 40.3,228.22 41.67,227.55 43.09,226.83 44.54,226.06 45.98,225.28 47.39,224.49 48.74,223.73 50,223 51.18,222.31 52.3,221.63 53.38,220.95 54.41,220.29 55.42,219.62 56.42,218.95 57.41,218.28 58.4,217.6 59.38,216.91 60.33,216.21 61.26,215.51 62.18,214.81 63.1,214.1 64.04,213.4 65,212.7 66,212 67.03,211.31 68.07,210.62 69.14,209.94 70.22,209.26 71.32,208.57 72.43,207.89 73.56,207.2 74.7,206.5 75.86,205.78 77.03,205.03 78.22,204.27 79.43,203.51 80.65,202.76 81.89,202.05 83.14,201.39 84.4,200.8 85.69,200.27 87,199.79 88.34,199.36 89.68,198.96 91.03,198.59 92.37,198.24 93.7,197.92 95,197.6 96.23,197.31 97.37,197.04 98.47,196.8 99.58,196.59 100.74,196.38 102,196.19 103.4,196 105,195.8 106.93,195.6 109.22,195.39 111.71,195.18 114.28,194.99 116.76,194.8 119.02,194.64 120.92,194.51 122.3,194.4" stroke="#a8d898" stroke-width="0.75" fill="none" stroke-linejoin="round" stroke-linecap="round" />
<rect x="16.3" y="136.4" width="112.4" height="100.4" stroke="#707070" stroke-width="0.7" fill="none" />
<text x="32.2" y="131.9" font-size="3.3" text-anchor="middle" fill="#1e1e1e" font-weight="normal" stroke="#1e1e1e" stroke-width="0.13" >60</text>
<line x1="32.2" y1="135.1" x2="32.2" y2="136.4" stroke="#707070" stroke-width="0.6" />
<text x="51.5" y="131.9" font-size="3.3" text-anchor="middle" fill="#1e1e1e" font-weight="normal" stroke="#1e1e1e" stroke-width="0.13" >52</text>
<line x1="51.5" y1="135.1" x2="51.5" y2="136.4" stroke="#707070" stroke-width="0.6" />
<text x="70.8" y="131.9" font-size="3.3" text-anchor="middle" fill="#1e1e1e" font-weight="normal" stroke="#1e1e1e" stroke-width="0.13" >44</text>
<line x1="70.8" y1="135.1" x2="70.8" y2="136.4" stroke="#707070" stroke-width="0.6" />
<text x="90.1" y="131.9" font-size="3.3" text-anchor="middle" fill="#1e1e1e" font-weight="normal" stroke="#1e1e1e" stroke-width="0.13" >29</text>
<line x1="90.1" y1="135.1" x2="90.1" y2="136.4" stroke="#707070" stroke-width="0.6" />
<text x="109.4" y="131.9" font-size="3.3" text-anchor="middle" fill="#1e1e1e" font-weight="normal" stroke="#1e1e1e" stroke-width="0.13" >18</text>
<line x1="109.4" y1="135.1" x2="109.4" y2="136.4" stroke="#707070" stroke-width="0.6" />
<text x="11.4" y="141.7" font-size="3" text-anchor="middle" fill="#1e1e1e" font-weight="normal" stroke="#1e1e1e" stroke-width="0.12" transform="rotate(-90 11.4 141.7)" >3</text>
<line x1="14.5" y1="141.7" x2="16.3" y2="141.7" stroke="#707070" stroke-width="0.6" />
<text x="11.4" y="159.3" font-size="3" text-anchor="middle" fill="#1e1e1e" font-weight="normal" stroke="#1e1e1e" stroke-width="0.12" transform="rotate(-90 11.4 159.3)" >2</text>
<line x1="14.5" y1="159.3" x2="16.3" y2="159.3" stroke="#707070" stroke-width="0.6" />
<text x="11.4" y="176.9" font-size="3" text-anchor="middle" fill="#1e1e1e" font-weight="normal" stroke="#1e1e1e" stroke-width="0.12" transform="rotate(-90 11.4 176.9)" >1</text>
<line x1="14.5" y1="176.9" x2="16.3" y2="176.9" stroke="#707070" stroke-width="0.6" />
<text x="11.4" y="194.5" font-size="3" text-anchor="middle" fill="#1e1e1e" font-weight="normal" stroke="#1e1e1e" stroke-width="0.12" transform="rotate(-90 11.4 194.5)" >0</text>
<line x1="14.5" y1="194.5" x2="16.3" y2="194.5" stroke="#707070" stroke-width="0.6" />
<text x="11.4" y="212.1" font-size="3" text-anchor="middle" fill="#1e1e1e" font-weight="normal" stroke="#1e1e1e" stroke-width="0.12" transform="rotate(-90 11.4 212.1)" >-1</text>
<line x1="14.5" y1="212.1" x2="16.3" y2="212.1" stroke="#707070" stroke-width="0.6" />
<text x="11.4" y="229.7" font-size="3" text-anchor="middle" fill="#1e1e1e" font-weight="normal" stroke="#1e1e1e" stroke-width="0.12" transform="rotate(-90 11.4 229.7)" >-2</text>
<line x1="14.5" y1="229.7" x2="16.3" y2="229.7" stroke="#707070" stroke-width="0.6" />
<text x="4.8" y="184" font-size="2.9" text-anchor="middle" fill="#1e1e1e" font-weight="normal" stroke="#1e1e1e" stroke-width="0.12" transform="rotate(-90 4.8 184)" >Coefficients</text>
<text x="32.2" y="243.2" font-size="3.4" text-anchor="middle" fill="#1e1e1e" font-weight="normal" stroke="#1e1e1e" stroke-width="0.14" >-7</text>
<line x1="32.2" y1="236.8" x2="32.2" y2="238.3" stroke="#707070" stroke-width="0.6" />
<text x="51.55" y="243.2" font-size="3.4" text-anchor="middle" fill="#1e1e1e" font-weight="normal" stroke="#1e1e1e" stroke-width="0.14" >-6</text>
<line x1="51.55" y1="236.8" x2="51.55" y2="238.3" stroke="#707070" stroke-width="0.6" />
<text x="70.9" y="243.2" font-size="3.4" text-anchor="middle" fill="#1e1e1e" font-weight="normal" stroke="#1e1e1e" stroke-width="0.14" >-5</text>
<line x1="70.9" y1="236.8" x2="70.9" y2="238.3" stroke="#707070" stroke-width="0.6" />
<text x="90.25" y="243.2" font-size="3.4" text-anchor="middle" fill="#1e1e1e" font-weight="normal" stroke="#1e1e1e" stroke-width="0.14" >-4</text>
<line x1="90.25" y1="236.8" x2="90.25" y2="238.3" stroke="#707070" stroke-width="0.6" />
<text x="109.6" y="243.2" font-size="3.4" text-anchor="middle" fill="#1e1e1e" font-weight="normal" stroke="#1e1e1e" stroke-width="0.14" >-3</text>
<line x1="109.6" y1="236.8" x2="109.6" y2="238.3" stroke="#707070" stroke-width="0.6" />
<text x="72" y="251.5" font-size="3.2" text-anchor="middle" fill="#1e1e1e" font-weight="normal" stroke="#1e1e1e" stroke-width="0.13" >Log Lambda</text>
<text x="131.2" y="7" font-size="6.4" text-anchor="start" fill="#111" font-weight="bold" >C</text>
<line x1="145.9" y1="41.5" x2="317.3" y2="41.5" stroke="#b8b8b8" stroke-width="0.6" />
<line x1="231.4" y1="7.6" x2="231.4" y2="49" stroke="#a0a0a0" stroke-width="0.6" />
<polyline points="151.6,47.9 151.75,47.83 151.92,47.73 152.1,47.61 152.3,47.49 152.53,47.35 152.79,47.2 153.08,47.05 153.41,46.9 153.78,46.76 154.21,46.63 154.68,46.51 155.22,46.4 155.75,46.31 156.26,46.24 156.75,46.18 157.26,46.12 157.81,46.07 158.44,46.02 159.16,45.98 160,45.92 161,45.86 162.17,45.79 163.55,45.7 165.16,45.6 167.03,45.48 169.15,45.35 171.49,45.21 174.02,45.06 176.69,44.9 179.48,44.73 182.36,44.56 185.28,44.39 188.22,44.21 191.14,44.04 194.02,43.87 196.8,43.7 199.65,43.53 202.71,43.34 205.91,43.14 209.19,42.94 212.48,42.73 215.73,42.53 218.86,42.34 221.83,42.15 224.56,41.98 226.99,41.83 229.05,41.7 230.7,41.6" stroke="#2a2ad0" stroke-width="1.35" fill="none" stroke-linejoin="round" stroke-linecap="round" />
<polyline points="231.4,41.5 232.55,41.45 234.01,41.39 235.73,41.32 237.66,41.24 239.76,41.16 241.97,41.07 244.25,40.97 246.55,40.86 248.82,40.73 251.02,40.6 253.09,40.46 255,40.3 256.81,40.12 258.62,39.92 260.42,39.7 262.2,39.47 263.96,39.22 265.68,38.97 267.36,38.72 268.97,38.47 270.53,38.23 272.01,38 273.4,37.79 274.7,37.6 275.9,37.43 277,37.28 278.01,37.14 278.95,37.01 279.83,36.89 280.64,36.77 281.42,36.66 282.16,36.56 282.88,36.45 283.58,36.34 284.29,36.22 285,36.1 285.71,35.98 286.39,35.85 287.05,35.73 287.69,35.61 288.3,35.49 288.89,35.37 289.46,35.25 290.01,35.12 290.54,35 291.05,34.87 291.53,34.74 292,34.6 292.44,34.46 292.86,34.32 293.25,34.17 293.62,34.03 293.97,33.88 294.29,33.73 294.61,33.57 294.9,33.42 295.19,33.26 295.47,33.11 295.74,32.95 296,32.8 296.25,32.65 296.46,32.5 296.66,32.36 296.83,32.22 297,32.08 297.16,31.93 297.31,31.78 297.48,31.63 297.65,31.46 297.84,31.29 298.06,31.1 298.3,30.9 298.57,30.68 298.87,30.45 299.2,30.21 299.54,29.96 299.89,29.7 300.24,29.43 300.6,29.16" stroke="#e32020" stroke-width="1.25" fill="none" stroke-linejoin="round" stroke-linecap="round" />
<circle cx="300.5" cy="29.24" r="0.6" fill="#e32020"/>
<circle cx="301.1" cy="28.77" r="0.6" fill="#e32020"/>
<circle cx="301.7" cy="28.26" r="0.6" fill="#e32020"/>
<circle cx="302.3" cy="27.7" r="0.6" fill="#e32020"/>
<circle cx="302.9" cy="27.07" r="0.6" fill="#e32020"/>
<circle cx="303.5" cy="26.37" r="0.6" fill="#e32020"/>
<circle cx="304.1" cy="25.53" r="0.6" fill="#e32020"/>
<circle cx="304.7" cy="24.36" r="0.6" fill="#e32020"/>
<circle cx="305.3" cy="21.76" r="0.6" fill="#e32020"/>
<circle cx="305.9" cy="17.7" r="0.6" fill="#e32020"/>
<circle cx="306.5" cy="13.99" r="0.6" fill="#e32020"/>
<circle cx="307.1" cy="11.58" r="0.6" fill="#e32020"/>
<circle cx="307.7" cy="10.12" r="0.6" fill="#e32020"/>
<circle cx="308.3" cy="9.24" r="0.6" fill="#e32020"/>
<circle cx="308.9" cy="8.62" r="0.6" fill="#e32020"/>
<circle cx="309.5" cy="8.25" r="0.6" fill="#e32020"/>
<circle cx="310.1" cy="8" r="0.6" fill="#e32020"/>
<circle cx="310.7" cy="7.83" r="0.6" fill="#e32020"/>
<circle cx="311.3" cy="7.72" r="0.6" fill="#e32020"/>
<circle cx="311.9" cy="7.62" r="0.6" fill="#e32020"/>
<rect x="145.9" y="7.6" width="171.4" height="41.4" stroke="#808080" stroke-width="0.7" fill="none" />
<text x="141" y="8.2" font-size="2.8" text-anchor="middle" fill="#1e1e1e" font-weight="normal" stroke="#1e1e1e" stroke-width="0.11" transform="rotate(-90 141 8.2)" >10</text>
<line x1="143.7" y1="8.2" x2="145.9" y2="8.2" stroke="#707070" stroke-width="0.6" />
<text x="141" y="16.28" font-size="2.8" text-anchor="middle" fill="#1e1e1e" font-weight="normal" stroke="#1e1e1e" stroke-width="0.11" transform="rotate(-90 141 16.28)" >8</text>
<line x1="143.7" y1="16.28" x2="145.9" y2="16.28" stroke="#707070" stroke-width="0.6" />
<text x="141" y="24.36" font-size="2.8" text-anchor="middle" fill="#1e1e1e" font-weight="normal" stroke="#1e1e1e" stroke-width="0.11" transform="rotate(-90 141 24.36)" >6</text>
<line x1="143.7" y1="24.36" x2="145.9" y2="24.36" stroke="#707070" stroke-width="0.6" />
<text x="141" y="32.44" font-size="2.8" text-anchor="middle" fill="#1e1e1e" font-weight="normal" stroke="#1e1e1e" stroke-width="0.11" transform="rotate(-90 141 32.44)" >4</text>
<line x1="143.7" y1="32.44" x2="145.9" y2="32.44" stroke="#707070" stroke-width="0.6" />
<text x="141" y="40.52" font-size="2.8" text-anchor="middle" fill="#1e1e1e" font-weight="normal" stroke="#1e1e1e" stroke-width="0.11" transform="rotate(-90 141 40.52)" >2</text>
<line x1="143.7" y1="40.52" x2="145.9" y2="40.52" stroke="#707070" stroke-width="0.6" />
<text x="141" y="48.6" font-size="2.8" text-anchor="middle" fill="#1e1e1e" font-weight="normal" stroke="#1e1e1e" stroke-width="0.11" transform="rotate(-90 141 48.6)" >0</text>
<line x1="143.7" y1="48.6" x2="145.9" y2="48.6" stroke="#707070" stroke-width="0.6" />
<text x="133.9" y="28" font-size="3.1" text-anchor="middle" fill="#1e1e1e" font-weight="normal" stroke="#1e1e1e" stroke-width="0.12" transform="rotate(-90 133.9 28)" >Risk score</text>
<circle cx="149.8" cy="11.7" r="0.85" fill="#e02020"/>
<circle cx="149.8" cy="16.8" r="0.85" fill="#2020c0"/>
<text x="152.4" y="13" font-size="3.9" text-anchor="start" fill="#222" font-weight="normal" stroke="#222" stroke-width="0.16" >High risk</text>
<text x="152.4" y="18.1" font-size="3.9" text-anchor="start" fill="#222" font-weight="normal" stroke="#222" stroke-width="0.16" >low Risk</text>
<text x="151.6" y="56.7" font-size="3.1" text-anchor="middle" fill="#1e1e1e" font-weight="normal" stroke="#1e1e1e" stroke-width="0.12" >0</text>
<line x1="151.6" y1="49" x2="151.6" y2="50.4" stroke="#707070" stroke-width="0.6" />
<text x="174.2" y="56.7" font-size="3.1" text-anchor="middle" fill="#1e1e1e" font-weight="normal" stroke="#1e1e1e" stroke-width="0.12" >50</text>
<line x1="174.2" y1="49" x2="174.2" y2="50.4" stroke="#707070" stroke-width="0.6" />
<text x="196.8" y="56.7" font-size="3.1" text-anchor="middle" fill="#1e1e1e" font-weight="normal" stroke="#1e1e1e" stroke-width="0.12" >100</text>
<line x1="196.8" y1="49" x2="196.8" y2="50.4" stroke="#707070" stroke-width="0.6" />
<text x="219.4" y="56.7" font-size="3.1" text-anchor="middle" fill="#1e1e1e" font-weight="normal" stroke="#1e1e1e" stroke-width="0.12" >150</text>
<line x1="219.4" y1="49" x2="219.4" y2="50.4" stroke="#707070" stroke-width="0.6" />
<text x="242" y="56.7" font-size="3.1" text-anchor="middle" fill="#1e1e1e" font-weight="normal" stroke="#1e1e1e" stroke-width="0.12" >200</text>
<line x1="242" y1="49" x2="242" y2="50.4" stroke="#707070" stroke-width="0.6" />
<text x="264.6" y="56.7" font-size="3.1" text-anchor="middle" fill="#1e1e1e" font-weight="normal" stroke="#1e1e1e" stroke-width="0.12" >250</text>
<line x1="264.6" y1="49" x2="264.6" y2="50.4" stroke="#707070" stroke-width="0.6" />
<text x="287.2" y="56.7" font-size="3.1" text-anchor="middle" fill="#1e1e1e" font-weight="normal" stroke="#1e1e1e" stroke-width="0.12" >300</text>
<line x1="287.2" y1="49" x2="287.2" y2="50.4" stroke="#707070" stroke-width="0.6" />
<text x="309.8" y="56.7" font-size="3.1" text-anchor="middle" fill="#1e1e1e" font-weight="normal" stroke="#1e1e1e" stroke-width="0.12" >350</text>
<line x1="309.8" y1="49" x2="309.8" y2="50.4" stroke="#707070" stroke-width="0.6" />
<text x="231.9" y="64.5" font-size="3.33" text-anchor="middle" fill="#1e1e1e" font-weight="normal" stroke="#1e1e1e" stroke-width="0.13" >Patients (increasing risk score)</text>
<text x="130.2" y="68.1" font-size="6.4" text-anchor="start" fill="#111" font-weight="bold" >D</text>
<line x1="231.2" y1="71.4" x2="231.2" y2="112.8" stroke="#b4b4b4" stroke-width="0.6" />
<circle cx="151.53" cy="110.36" r="0.98" fill="#2626c8"/>
<circle cx="152" cy="111.28" r="0.98" fill="#2626c8"/>
<circle cx="152.44" cy="107.4" r="0.98" fill="#2626c8"/>
<circle cx="153.3" cy="101.9" r="0.98" fill="#2626c8"/>
<circle cx="153.77" cy="102.15" r="0.98" fill="#2626c8"/>
<circle cx="154.18" cy="102.37" r="0.98" fill="#2626c8"/>
<circle cx="154.89" cy="108.17" r="0.98" fill="#2626c8"/>
<circle cx="155.3" cy="110.21" r="0.98" fill="#2626c8"/>
<circle cx="155.54" cy="107.32" r="0.98" fill="#2626c8"/>
<circle cx="156.09" cy="101.78" r="0.98" fill="#2626c8"/>
<circle cx="156.62" cy="101.96" r="0.98" fill="#2626c8"/>
<circle cx="157.12" cy="103.76" r="0.98" fill="#2626c8"/>
<circle cx="157.34" cy="99.64" r="0.98" fill="#2626c8"/>
<circle cx="157.88" cy="111.2" r="0.98" fill="#2626c8"/>
<circle cx="158.38" cy="107.62" r="0.98" fill="#2626c8"/>
<circle cx="158.81" cy="109.57" r="0.98" fill="#2626c8"/>
<circle cx="159.27" cy="106.45" r="0.98" fill="#2626c8"/>
<circle cx="159.85" cy="111.05" r="0.98" fill="#2626c8"/>
<circle cx="160.3" cy="104.69" r="0.98" fill="#2626c8"/>
<circle cx="160.58" cy="109.06" r="0.98" fill="#2626c8"/>
<circle cx="161.42" cy="103.98" r="0.98" fill="#2626c8"/>
<circle cx="161.95" cy="105.75" r="0.98" fill="#2626c8"/>
<circle cx="162.4" cy="103.09" r="0.98" fill="#2626c8"/>
<circle cx="162.91" cy="105.04" r="0.98" fill="#2626c8"/>
<circle cx="163.91" cy="103.53" r="0.98" fill="#2626c8"/>
<circle cx="164.34" cy="110.58" r="0.98" fill="#2626c8"/>
<circle cx="164.6" cy="103.63" r="0.98" fill="#2626c8"/>
<circle cx="165.03" cy="101.67" r="0.98" fill="#2626c8"/>
<circle cx="165.6" cy="106.4" r="0.98" fill="#2626c8"/>
<circle cx="166.16" cy="106.22" r="0.98" fill="#2626c8"/>
<circle cx="166.48" cy="100.01" r="0.98" fill="#2626c8"/>
<circle cx="166.84" cy="100.62" r="0.98" fill="#2626c8"/>
<circle cx="167.48" cy="106.71" r="0.98" fill="#2626c8"/>
<circle cx="167.99" cy="99.1" r="0.98" fill="#2626c8"/>
<circle cx="168.29" cy="102.27" r="0.98" fill="#2626c8"/>
<circle cx="168.83" cy="100.21" r="0.98" fill="#2626c8"/>
<circle cx="169.27" cy="103" r="0.98" fill="#2626c8"/>
<circle cx="170.05" cy="110.78" r="0.98" fill="#2626c8"/>
<circle cx="170.62" cy="102.99" r="0.98" fill="#2626c8"/>
<circle cx="171.13" cy="101.04" r="0.98" fill="#2626c8"/>
<circle cx="171.59" cy="110.73" r="0.98" fill="#2626c8"/>
<circle cx="172.02" cy="105.44" r="0.98" fill="#2626c8"/>
<circle cx="172.51" cy="106.44" r="0.98" fill="#2626c8"/>
<circle cx="173.71" cy="106.17" r="0.98" fill="#2626c8"/>
<circle cx="174.27" cy="103.78" r="0.98" fill="#2626c8"/>
<circle cx="174.73" cy="103.92" r="0.98" fill="#2626c8"/>
<circle cx="174.98" cy="102.8" r="0.98" fill="#2626c8"/>
<circle cx="175.59" cy="98.7" r="0.98" fill="#2626c8"/>
<circle cx="176.07" cy="102.97" r="0.98" fill="#2626c8"/>
<circle cx="176.39" cy="102.77" r="0.98" fill="#2626c8"/>
<circle cx="176.95" cy="104.12" r="0.98" fill="#2626c8"/>
<circle cx="177.32" cy="99.49" r="0.98" fill="#2626c8"/>
<circle cx="178.28" cy="110.79" r="0.98" fill="#2626c8"/>
<circle cx="178.69" cy="105.72" r="0.98" fill="#2626c8"/>
<circle cx="179.21" cy="107.91" r="0.98" fill="#2626c8"/>
<circle cx="179.73" cy="99.83" r="0.98" fill="#2626c8"/>
<circle cx="179.96" cy="108.37" r="0.98" fill="#2626c8"/>
<circle cx="180.41" cy="102.9" r="0.98" fill="#2626c8"/>
<circle cx="180.97" cy="100.46" r="0.98" fill="#2626c8"/>
<circle cx="181.89" cy="108.92" r="0.98" fill="#2626c8"/>
<circle cx="182.34" cy="99.38" r="0.98" fill="#2626c8"/>
<circle cx="182.68" cy="98.61" r="0.98" fill="#2626c8"/>
<circle cx="183.25" cy="102.44" r="0.98" fill="#2626c8"/>
<circle cx="183.67" cy="100.17" r="0.98" fill="#2626c8"/>
<circle cx="184.7" cy="101.79" r="0.98" fill="#2626c8"/>
<circle cx="185.05" cy="106.93" r="0.98" fill="#2626c8"/>
<circle cx="185.46" cy="107.63" r="0.98" fill="#2626c8"/>
<circle cx="186.09" cy="104.38" r="0.98" fill="#2626c8"/>
<circle cx="186.27" cy="100.97" r="0.98" fill="#2626c8"/>
<circle cx="186.9" cy="101.66" r="0.98" fill="#2626c8"/>
<circle cx="187.34" cy="103.37" r="0.98" fill="#2626c8"/>
<circle cx="187.74" cy="109.33" r="0.98" fill="#2626c8"/>
<circle cx="188.09" cy="106.57" r="0.98" fill="#2626c8"/>
<circle cx="188.81" cy="107.74" r="0.98" fill="#2626c8"/>
<circle cx="189" cy="100.45" r="0.98" fill="#2626c8"/>
<circle cx="189.53" cy="99.3" r="0.98" fill="#2626c8"/>
<circle cx="190" cy="103.44" r="0.98" fill="#2626c8"/>
<circle cx="190.58" cy="98.66" r="0.98" fill="#2626c8"/>
<circle cx="191.51" cy="110.47" r="0.98" fill="#2626c8"/>
<circle cx="192.32" cy="111.17" r="0.98" fill="#2626c8"/>
<circle cx="192.59" cy="111.41" r="0.98" fill="#2626c8"/>
<circle cx="193.11" cy="106.11" r="0.98" fill="#2626c8"/>
<circle cx="193.77" cy="104.94" r="0.98" fill="#2626c8"/>
<circle cx="194.12" cy="103.11" r="0.98" fill="#2626c8"/>
<circle cx="194.41" cy="100.76" r="0.98" fill="#2626c8"/>
<circle cx="194.98" cy="100.66" r="0.98" fill="#2626c8"/>
<circle cx="195.49" cy="105.41" r="0.98" fill="#2626c8"/>
<circle cx="196" cy="99.12" r="0.98" fill="#2626c8"/>
<circle cx="196.26" cy="108.96" r="0.98" fill="#2626c8"/>
<circle cx="196.73" cy="102.99" r="0.98" fill="#2626c8"/>
<circle cx="197.33" cy="109.62" r="0.98" fill="#2626c8"/>
<circle cx="197.85" cy="107.93" r="0.98" fill="#2626c8"/>
<circle cx="198.21" cy="106.86" r="0.98" fill="#2626c8"/>
<circle cx="199.17" cy="102.99" r="0.98" fill="#2626c8"/>
<circle cx="199.5" cy="105.85" r="0.98" fill="#2626c8"/>
<circle cx="199.88" cy="108.93" r="0.98" fill="#2626c8"/>
<circle cx="200.31" cy="107.39" r="0.98" fill="#2626c8"/>
<circle cx="200.92" cy="99.6" r="0.98" fill="#2626c8"/>
<circle cx="201.42" cy="104.75" r="0.98" fill="#2626c8"/>
<circle cx="201.63" cy="104.91" r="0.98" fill="#2626c8"/>
<circle cx="202.18" cy="101.7" r="0.98" fill="#2626c8"/>
<circle cx="202.76" cy="104.82" r="0.98" fill="#2626c8"/>
<circle cx="203.21" cy="105.13" r="0.98" fill="#2626c8"/>
<circle cx="203.65" cy="108.49" r="0.98" fill="#2626c8"/>
<circle cx="204.14" cy="109.18" r="0.98" fill="#2626c8"/>
<circle cx="204.51" cy="109.35" r="0.98" fill="#2626c8"/>
<circle cx="204.84" cy="109.64" r="0.98" fill="#2626c8"/>
<circle cx="205.47" cy="105.28" r="0.98" fill="#2626c8"/>
<circle cx="205.83" cy="107.49" r="0.98" fill="#2626c8"/>
<circle cx="206.31" cy="99.04" r="0.98" fill="#2626c8"/>
<circle cx="207.21" cy="103.2" r="0.98" fill="#2626c8"/>
<circle cx="207.76" cy="103.24" r="0.98" fill="#2626c8"/>
<circle cx="208.2" cy="101.02" r="0.98" fill="#2626c8"/>
<circle cx="208.6" cy="99.49" r="0.98" fill="#2626c8"/>
<circle cx="209.08" cy="99.27" r="0.98" fill="#2626c8"/>
<circle cx="209.57" cy="99.15" r="0.98" fill="#2626c8"/>
<circle cx="210.04" cy="106.22" r="0.98" fill="#2626c8"/>
<circle cx="211.23" cy="99.57" r="0.98" fill="#2626c8"/>
<circle cx="211.79" cy="107.75" r="0.98" fill="#2626c8"/>
<circle cx="212.17" cy="99.29" r="0.98" fill="#2626c8"/>
<circle cx="212.53" cy="102.6" r="0.98" fill="#2626c8"/>
<circle cx="213.03" cy="99.78" r="0.98" fill="#2626c8"/>
<circle cx="213.45" cy="103.15" r="0.98" fill="#2626c8"/>
<circle cx="213.87" cy="109.92" r="0.98" fill="#2626c8"/>
<circle cx="214.49" cy="110.13" r="0.98" fill="#2626c8"/>
<circle cx="214.98" cy="102.93" r="0.98" fill="#2626c8"/>
<circle cx="215.25" cy="107.07" r="0.98" fill="#2626c8"/>
<circle cx="216.77" cy="102.44" r="0.98" fill="#2626c8"/>
<circle cx="217.04" cy="101.46" r="0.98" fill="#2626c8"/>
<circle cx="217.99" cy="104.2" r="0.98" fill="#2626c8"/>
<circle cx="218.49" cy="109.26" r="0.98" fill="#2626c8"/>
<circle cx="218.85" cy="111.26" r="0.98" fill="#2626c8"/>
<circle cx="219.3" cy="104.89" r="0.98" fill="#2626c8"/>
<circle cx="219.85" cy="103.98" r="0.98" fill="#2626c8"/>
<circle cx="220.45" cy="101.47" r="0.98" fill="#2626c8"/>
<circle cx="220.7" cy="104.52" r="0.98" fill="#2626c8"/>
<circle cx="221.32" cy="108.87" r="0.98" fill="#2626c8"/>
<circle cx="221.78" cy="99.87" r="0.98" fill="#2626c8"/>
<circle cx="221.98" cy="101.78" r="0.98" fill="#2626c8"/>
<circle cx="222.67" cy="107.23" r="0.98" fill="#2626c8"/>
<circle cx="223.06" cy="104.36" r="0.98" fill="#2626c8"/>
<circle cx="223.57" cy="98.57" r="0.98" fill="#2626c8"/>
<circle cx="224.04" cy="100.38" r="0.98" fill="#2626c8"/>
<circle cx="224.23" cy="99.71" r="0.98" fill="#2626c8"/>
<circle cx="224.78" cy="110.16" r="0.98" fill="#2626c8"/>
<circle cx="226.07" cy="102.77" r="0.98" fill="#2626c8"/>
<circle cx="226.51" cy="102.52" r="0.98" fill="#2626c8"/>
<circle cx="227.14" cy="110.01" r="0.98" fill="#2626c8"/>
<circle cx="227.55" cy="99.21" r="0.98" fill="#2626c8"/>
<circle cx="228.04" cy="105.44" r="0.98" fill="#2626c8"/>
<circle cx="228.36" cy="99.37" r="0.98" fill="#2626c8"/>
<circle cx="229.45" cy="102.58" r="0.98" fill="#2626c8"/>
<circle cx="229.69" cy="104.49" r="0.98" fill="#2626c8"/>
<circle cx="230.34" cy="105.66" r="0.98" fill="#2626c8"/>
<circle cx="230.68" cy="98.61" r="0.98" fill="#2626c8"/>
<circle cx="231.53" cy="110.09" r="0.98" fill="#2626c8"/>
<circle cx="232.03" cy="110.97" r="0.98" fill="#2626c8"/>
<circle cx="232.61" cy="102.25" r="0.98" fill="#2626c8"/>
<circle cx="232.83" cy="99.2" r="0.98" fill="#2626c8"/>
<circle cx="233.95" cy="99.3" r="0.98" fill="#2626c8"/>
<circle cx="236.53" cy="100.87" r="0.98" fill="#2626c8"/>
<circle cx="237.14" cy="110.55" r="0.98" fill="#2626c8"/>
<circle cx="238.79" cy="106.23" r="0.98" fill="#2626c8"/>
<circle cx="239.24" cy="105.42" r="0.98" fill="#2626c8"/>
<circle cx="239.71" cy="110.27" r="0.98" fill="#2626c8"/>
<circle cx="240.29" cy="100.6" r="0.98" fill="#2626c8"/>
<circle cx="240.73" cy="110.34" r="0.98" fill="#2626c8"/>
<circle cx="241.05" cy="100.24" r="0.98" fill="#2626c8"/>
<circle cx="241.93" cy="103.42" r="0.98" fill="#2626c8"/>
<circle cx="242.59" cy="110.72" r="0.98" fill="#2626c8"/>
<circle cx="243.44" cy="99.76" r="0.98" fill="#2626c8"/>
<circle cx="243.66" cy="99.17" r="0.98" fill="#2626c8"/>
<circle cx="244.69" cy="100.75" r="0.98" fill="#2626c8"/>
<circle cx="245.73" cy="107.54" r="0.98" fill="#2626c8"/>
<circle cx="246.07" cy="98.74" r="0.98" fill="#2626c8"/>
<circle cx="246.49" cy="100.96" r="0.98" fill="#2626c8"/>
<circle cx="248.41" cy="106.6" r="0.98" fill="#2626c8"/>
<circle cx="248.7" cy="110.01" r="0.98" fill="#2626c8"/>
<circle cx="249.54" cy="106.85" r="0.98" fill="#2626c8"/>
<circle cx="249.99" cy="104.07" r="0.98" fill="#2626c8"/>
<circle cx="251.52" cy="105.37" r="0.98" fill="#2626c8"/>
<circle cx="252.05" cy="110.25" r="0.98" fill="#2626c8"/>
<circle cx="252.38" cy="110.56" r="0.98" fill="#2626c8"/>
<circle cx="252.77" cy="109.89" r="0.98" fill="#2626c8"/>
<circle cx="253.36" cy="103.39" r="0.98" fill="#2626c8"/>
<circle cx="253.66" cy="100.82" r="0.98" fill="#2626c8"/>
<circle cx="254.11" cy="105.76" r="0.98" fill="#2626c8"/>
<circle cx="255.02" cy="100.99" r="0.98" fill="#2626c8"/>
<circle cx="256.59" cy="109.67" r="0.98" fill="#2626c8"/>
<circle cx="260.01" cy="106.13" r="0.98" fill="#2626c8"/>
<circle cx="260.4" cy="105.78" r="0.98" fill="#2626c8"/>
<circle cx="261.04" cy="109.85" r="0.98" fill="#2626c8"/>
<circle cx="261.54" cy="105.06" r="0.98" fill="#2626c8"/>
<circle cx="262.33" cy="110.45" r="0.98" fill="#2626c8"/>
<circle cx="263.78" cy="105.54" r="0.98" fill="#2626c8"/>
<circle cx="264.14" cy="104.48" r="0.98" fill="#2626c8"/>
<circle cx="264.54" cy="107.42" r="0.98" fill="#2626c8"/>
<circle cx="265.41" cy="100.26" r="0.98" fill="#2626c8"/>
<circle cx="266.31" cy="99.14" r="0.98" fill="#2626c8"/>
<circle cx="267.88" cy="108.4" r="0.98" fill="#2626c8"/>
<circle cx="270" cy="104.02" r="0.98" fill="#2626c8"/>
<circle cx="270.52" cy="103.74" r="0.98" fill="#2626c8"/>
<circle cx="271.68" cy="100.66" r="0.98" fill="#2626c8"/>
<circle cx="272.22" cy="110.59" r="0.98" fill="#2626c8"/>
<circle cx="272.81" cy="99.82" r="0.98" fill="#2626c8"/>
<circle cx="275.52" cy="104.42" r="0.98" fill="#2626c8"/>
<circle cx="278.21" cy="98.95" r="0.98" fill="#2626c8"/>
<circle cx="279.98" cy="105.21" r="0.98" fill="#2626c8"/>
<circle cx="281.36" cy="103.34" r="0.98" fill="#2626c8"/>
<circle cx="282.35" cy="107.2" r="0.98" fill="#2626c8"/>
<circle cx="283.61" cy="105.76" r="0.98" fill="#2626c8"/>
<circle cx="287.2" cy="108.98" r="0.98" fill="#2626c8"/>
<circle cx="289.1" cy="107.93" r="0.98" fill="#2626c8"/>
<circle cx="290.36" cy="102.89" r="0.98" fill="#2626c8"/>
<circle cx="292.18" cy="107.13" r="0.98" fill="#2626c8"/>
<circle cx="293.42" cy="108.38" r="0.98" fill="#2626c8"/>
<circle cx="294.58" cy="98.83" r="0.98" fill="#2626c8"/>
<circle cx="295.45" cy="101.92" r="0.98" fill="#2626c8"/>
<circle cx="295.78" cy="101.55" r="0.98" fill="#2626c8"/>
<circle cx="297.03" cy="105.85" r="0.98" fill="#2626c8"/>
<circle cx="297.65" cy="100.4" r="0.98" fill="#2626c8"/>
<circle cx="298.13" cy="108.95" r="0.98" fill="#2626c8"/>
<circle cx="298.81" cy="105.76" r="0.98" fill="#2626c8"/>
<circle cx="307.86" cy="105.71" r="0.98" fill="#2626c8"/>
<circle cx="171" cy="72.6" r="0.98" fill="#2626c8"/>
<circle cx="163.7" cy="87.8" r="0.98" fill="#2626c8"/>
<circle cx="152.3" cy="94.2" r="0.98" fill="#2626c8"/>
<circle cx="174.8" cy="91.6" r="0.98" fill="#2626c8"/>
<circle cx="175" cy="93.5" r="0.98" fill="#2626c8"/>
<circle cx="192.6" cy="91.6" r="0.98" fill="#2626c8"/>
<circle cx="196.9" cy="96.8" r="0.98" fill="#2626c8"/>
<circle cx="208.7" cy="74.9" r="0.98" fill="#2626c8"/>
<circle cx="206" cy="90.8" r="0.98" fill="#2626c8"/>
<circle cx="213" cy="93.4" r="0.98" fill="#2626c8"/>
<circle cx="214.7" cy="96" r="0.98" fill="#2626c8"/>
<circle cx="215" cy="98" r="0.98" fill="#2626c8"/>
<circle cx="247.7" cy="87.3" r="0.98" fill="#2626c8"/>
<circle cx="248" cy="89.2" r="0.98" fill="#2626c8"/>
<circle cx="254.6" cy="94.3" r="0.98" fill="#2626c8"/>
<circle cx="241.6" cy="97.7" r="0.98" fill="#2626c8"/>
<circle cx="293" cy="74.9" r="0.98" fill="#2626c8"/>
<circle cx="279.4" cy="86" r="0.98" fill="#2626c8"/>
<circle cx="291.2" cy="91.6" r="0.98" fill="#2626c8"/>
<circle cx="273.9" cy="93.4" r="0.98" fill="#2626c8"/>
<circle cx="277.3" cy="101.2" r="0.98" fill="#2626c8"/>
<circle cx="262.6" cy="97.7" r="0.98" fill="#2626c8"/>
<circle cx="153.03" cy="108.67" r="0.98" fill="#e82424"/>
<circle cx="161.13" cy="102.55" r="0.98" fill="#e82424"/>
<circle cx="163.25" cy="100.6" r="0.98" fill="#e82424"/>
<circle cx="169.71" cy="104.16" r="0.98" fill="#e82424"/>
<circle cx="172.94" cy="110.36" r="0.98" fill="#e82424"/>
<circle cx="173.35" cy="109.22" r="0.98" fill="#e82424"/>
<circle cx="177.78" cy="111.38" r="0.98" fill="#e82424"/>
<circle cx="181.42" cy="104.4" r="0.98" fill="#e82424"/>
<circle cx="184.18" cy="111.68" r="0.98" fill="#e82424"/>
<circle cx="190.82" cy="111.39" r="0.98" fill="#e82424"/>
<circle cx="191.72" cy="109.37" r="0.98" fill="#e82424"/>
<circle cx="198.54" cy="111.02" r="0.98" fill="#e82424"/>
<circle cx="206.71" cy="109.92" r="0.98" fill="#e82424"/>
<circle cx="210.5" cy="102.42" r="0.98" fill="#e82424"/>
<circle cx="210.91" cy="108.63" r="0.98" fill="#e82424"/>
<circle cx="215.93" cy="111.65" r="0.98" fill="#e82424"/>
<circle cx="216.2" cy="111.33" r="0.98" fill="#e82424"/>
<circle cx="217.47" cy="109.84" r="0.98" fill="#e82424"/>
<circle cx="225.35" cy="100.4" r="0.98" fill="#e82424"/>
<circle cx="225.76" cy="109.37" r="0.98" fill="#e82424"/>
<circle cx="228.91" cy="108.59" r="0.98" fill="#e82424"/>
<circle cx="231.16" cy="107.56" r="0.98" fill="#e82424"/>
<circle cx="233.27" cy="106.21" r="0.98" fill="#e82424"/>
<circle cx="234.34" cy="106.69" r="0.98" fill="#e82424"/>
<circle cx="234.71" cy="110.78" r="0.98" fill="#e82424"/>
<circle cx="235.12" cy="106.87" r="0.98" fill="#e82424"/>
<circle cx="235.66" cy="102.47" r="0.98" fill="#e82424"/>
<circle cx="236.02" cy="109.56" r="0.98" fill="#e82424"/>
<circle cx="237.41" cy="111.66" r="0.98" fill="#e82424"/>
<circle cx="237.91" cy="111.02" r="0.98" fill="#e82424"/>
<circle cx="238.25" cy="100.4" r="0.98" fill="#e82424"/>
<circle cx="241.4" cy="111.11" r="0.98" fill="#e82424"/>
<circle cx="242.83" cy="111.45" r="0.98" fill="#e82424"/>
<circle cx="244.18" cy="111.1" r="0.98" fill="#e82424"/>
<circle cx="245.05" cy="106.72" r="0.98" fill="#e82424"/>
<circle cx="247.11" cy="111.38" r="0.98" fill="#e82424"/>
<circle cx="247.38" cy="102.58" r="0.98" fill="#e82424"/>
<circle cx="247.78" cy="110.75" r="0.98" fill="#e82424"/>
<circle cx="249.35" cy="102.8" r="0.98" fill="#e82424"/>
<circle cx="250.54" cy="106.55" r="0.98" fill="#e82424"/>
<circle cx="251.04" cy="111.04" r="0.98" fill="#e82424"/>
<circle cx="254.55" cy="111.54" r="0.98" fill="#e82424"/>
<circle cx="255.43" cy="111.03" r="0.98" fill="#e82424"/>
<circle cx="256.02" cy="100.67" r="0.98" fill="#e82424"/>
<circle cx="256.9" cy="111.17" r="0.98" fill="#e82424"/>
<circle cx="257.33" cy="111.19" r="0.98" fill="#e82424"/>
<circle cx="257.77" cy="108.79" r="0.98" fill="#e82424"/>
<circle cx="258.29" cy="110.78" r="0.98" fill="#e82424"/>
<circle cx="258.68" cy="110.88" r="0.98" fill="#e82424"/>
<circle cx="259.08" cy="102.06" r="0.98" fill="#e82424"/>
<circle cx="259.5" cy="110.93" r="0.98" fill="#e82424"/>
<circle cx="261.95" cy="107.72" r="0.98" fill="#e82424"/>
<circle cx="262.93" cy="104.81" r="0.98" fill="#e82424"/>
<circle cx="263.27" cy="101.67" r="0.98" fill="#e82424"/>
<circle cx="264.92" cy="106.23" r="0.98" fill="#e82424"/>
<circle cx="265.99" cy="105.87" r="0.98" fill="#e82424"/>
<circle cx="266.94" cy="111.3" r="0.98" fill="#e82424"/>
<circle cx="267.45" cy="106.96" r="0.98" fill="#e82424"/>
<circle cx="268.28" cy="106.76" r="0.98" fill="#e82424"/>
<circle cx="268.65" cy="108.53" r="0.98" fill="#e82424"/>
<circle cx="269.15" cy="107.6" r="0.98" fill="#e82424"/>
<circle cx="269.67" cy="100.4" r="0.98" fill="#e82424"/>
<circle cx="270.83" cy="110.82" r="0.98" fill="#e82424"/>
<circle cx="271.27" cy="111.19" r="0.98" fill="#e82424"/>
<circle cx="273.3" cy="105.98" r="0.98" fill="#e82424"/>
<circle cx="273.75" cy="110.12" r="0.98" fill="#e82424"/>
<circle cx="274.06" cy="111.2" r="0.98" fill="#e82424"/>
<circle cx="274.66" cy="111.3" r="0.98" fill="#e82424"/>
<circle cx="274.87" cy="105.7" r="0.98" fill="#e82424"/>
<circle cx="276.03" cy="110.53" r="0.98" fill="#e82424"/>
<circle cx="276.36" cy="110.9" r="0.98" fill="#e82424"/>
<circle cx="276.81" cy="111.72" r="0.98" fill="#e82424"/>
<circle cx="277.35" cy="109.38" r="0.98" fill="#e82424"/>
<circle cx="277.59" cy="109.24" r="0.98" fill="#e82424"/>
<circle cx="278.72" cy="111.62" r="0.98" fill="#e82424"/>
<circle cx="279.08" cy="111.38" r="0.98" fill="#e82424"/>
<circle cx="279.45" cy="106.67" r="0.98" fill="#e82424"/>
<circle cx="280.52" cy="106.31" r="0.98" fill="#e82424"/>
<circle cx="280.77" cy="109.79" r="0.98" fill="#e82424"/>
<circle cx="281.7" cy="108.66" r="0.98" fill="#e82424"/>
<circle cx="282.77" cy="107.49" r="0.98" fill="#e82424"/>
<circle cx="283.25" cy="111.43" r="0.98" fill="#e82424"/>
<circle cx="284.09" cy="108.96" r="0.98" fill="#e82424"/>
<circle cx="284.48" cy="110.34" r="0.98" fill="#e82424"/>
<circle cx="284.84" cy="110.98" r="0.98" fill="#e82424"/>
<circle cx="285.37" cy="111.78" r="0.98" fill="#e82424"/>
<circle cx="285.85" cy="102.52" r="0.98" fill="#e82424"/>
<circle cx="286.21" cy="106.36" r="0.98" fill="#e82424"/>
<circle cx="286.69" cy="109.74" r="0.98" fill="#e82424"/>
<circle cx="287.69" cy="109.68" r="0.98" fill="#e82424"/>
<circle cx="288.18" cy="111.72" r="0.98" fill="#e82424"/>
<circle cx="288.48" cy="100.4" r="0.98" fill="#e82424"/>
<circle cx="289.46" cy="109.45" r="0.98" fill="#e82424"/>
<circle cx="289.97" cy="100.4" r="0.98" fill="#e82424"/>
<circle cx="290.76" cy="109.99" r="0.98" fill="#e82424"/>
<circle cx="291.13" cy="110.65" r="0.98" fill="#e82424"/>
<circle cx="291.76" cy="111.16" r="0.98" fill="#e82424"/>
<circle cx="292.64" cy="105.16" r="0.98" fill="#e82424"/>
<circle cx="292.99" cy="105.26" r="0.98" fill="#e82424"/>
<circle cx="293.87" cy="111.02" r="0.98" fill="#e82424"/>
<circle cx="294.83" cy="107.4" r="0.98" fill="#e82424"/>
<circle cx="296.12" cy="109.51" r="0.98" fill="#e82424"/>
<circle cx="296.73" cy="108.09" r="0.98" fill="#e82424"/>
<circle cx="298.53" cy="109.48" r="0.98" fill="#e82424"/>
<circle cx="299.49" cy="104.67" r="0.98" fill="#e82424"/>
<circle cx="299.82" cy="106.97" r="0.98" fill="#e82424"/>
<circle cx="300.24" cy="106.02" r="0.98" fill="#e82424"/>
<circle cx="300.61" cy="111.29" r="0.98" fill="#e82424"/>
<circle cx="301.12" cy="104.1" r="0.98" fill="#e82424"/>
<circle cx="301.53" cy="111.64" r="0.98" fill="#e82424"/>
<circle cx="302.07" cy="105.61" r="0.98" fill="#e82424"/>
<circle cx="302.52" cy="104.88" r="0.98" fill="#e82424"/>
<circle cx="303.09" cy="107.12" r="0.98" fill="#e82424"/>
<circle cx="303.39" cy="109.48" r="0.98" fill="#e82424"/>
<circle cx="303.81" cy="111.24" r="0.98" fill="#e82424"/>
<circle cx="304.49" cy="111.63" r="0.98" fill="#e82424"/>
<circle cx="304.77" cy="110.61" r="0.98" fill="#e82424"/>
<circle cx="305.23" cy="110.58" r="0.98" fill="#e82424"/>
<circle cx="305.87" cy="109.5" r="0.98" fill="#e82424"/>
<circle cx="306.26" cy="107.21" r="0.98" fill="#e82424"/>
<circle cx="306.69" cy="110.5" r="0.98" fill="#e82424"/>
<circle cx="306.99" cy="111.44" r="0.98" fill="#e82424"/>
<circle cx="307.55" cy="110.65" r="0.98" fill="#e82424"/>
<circle cx="308.59" cy="108.66" r="0.98" fill="#e82424"/>
<circle cx="308.91" cy="107.97" r="0.98" fill="#e82424"/>
<circle cx="309.42" cy="108.35" r="0.98" fill="#e82424"/>
<circle cx="309.66" cy="109.58" r="0.98" fill="#e82424"/>
<circle cx="155" cy="88.7" r="0.98" fill="#e82424"/>
<circle cx="222.5" cy="89.9" r="0.98" fill="#e82424"/>
<circle cx="280.8" cy="93" r="0.98" fill="#e82424"/>
<circle cx="273" cy="99.8" r="0.98" fill="#e82424"/>
<circle cx="305.4" cy="102" r="0.98" fill="#e82424"/>
<circle cx="186" cy="95" r="0.98" fill="#e82424"/>
<circle cx="232" cy="96" r="0.98" fill="#e82424"/>
<rect x="145.9" y="71.4" width="171.5" height="41.4" stroke="#808080" stroke-width="0.7" fill="none" />
<text x="141" y="73.5" font-size="2.8" text-anchor="middle" fill="#1e1e1e" font-weight="normal" stroke="#1e1e1e" stroke-width="0.11" transform="rotate(-90 141 73.5)" >12</text>
<line x1="143.7" y1="73.5" x2="145.9" y2="73.5" stroke="#707070" stroke-width="0.6" />
<text x="141" y="81.1" font-size="2.8" text-anchor="middle" fill="#1e1e1e" font-weight="normal" stroke="#1e1e1e" stroke-width="0.11" transform="rotate(-90 141 81.1)" >10</text>
<line x1="143.7" y1="81.1" x2="145.9" y2="81.1" stroke="#707070" stroke-width="0.6" />
<text x="141" y="88.7" font-size="2.8" text-anchor="middle" fill="#1e1e1e" font-weight="normal" stroke="#1e1e1e" stroke-width="0.11" transform="rotate(-90 141 88.7)" >8</text>
<line x1="143.7" y1="88.7" x2="145.9" y2="88.7" stroke="#707070" stroke-width="0.6" />
<text x="141" y="96.3" font-size="2.8" text-anchor="middle" fill="#1e1e1e" font-weight="normal" stroke="#1e1e1e" stroke-width="0.11" transform="rotate(-90 141 96.3)" >6</text>
<line x1="143.7" y1="96.3" x2="145.9" y2="96.3" stroke="#707070" stroke-width="0.6" />
<text x="141" y="103.9" font-size="2.8" text-anchor="middle" fill="#1e1e1e" font-weight="normal" stroke="#1e1e1e" stroke-width="0.11" transform="rotate(-90 141 103.9)" >4</text>
<line x1="143.7" y1="103.9" x2="145.9" y2="103.9" stroke="#707070" stroke-width="0.6" />
<text x="141" y="111.5" font-size="2.8" text-anchor="middle" fill="#1e1e1e" font-weight="normal" stroke="#1e1e1e" stroke-width="0.11" transform="rotate(-90 141 111.5)" >2</text>
<line x1="143.7" y1="111.5" x2="145.9" y2="111.5" stroke="#707070" stroke-width="0.6" />
<text x="133.9" y="89" font-size="3" text-anchor="middle" fill="#1e1e1e" font-weight="normal" stroke="#1e1e1e" stroke-width="0.12" transform="rotate(-90 133.9 89)" >Survival time (years)</text>
<circle cx="149.9" cy="75.7" r="0.85" fill="#e02020"/>
<circle cx="149.9" cy="80.7" r="0.85" fill="#2020c0"/>
<text x="152.4" y="77.1" font-size="4.2" text-anchor="start" fill="#222" font-weight="normal" stroke="#222" stroke-width="0.17" >Dead</text>
<text x="152.4" y="82.1" font-size="4.2" text-anchor="start" fill="#222" font-weight="normal" stroke="#222" stroke-width="0.17" >Alive</text>
<text x="151.6" y="121.1" font-size="3.1" text-anchor="middle" fill="#1e1e1e" font-weight="normal" stroke="#1e1e1e" stroke-width="0.12" >0</text>
<line x1="151.6" y1="112.8" x2="151.6" y2="114.2" stroke="#707070" stroke-width="0.6" />
<text x="174.2" y="121.1" font-size="3.1" text-anchor="middle" fill="#1e1e1e" font-weight="normal" stroke="#1e1e1e" stroke-width="0.12" >50</text>
<line x1="174.2" y1="112.8" x2="174.2" y2="114.2" stroke="#707070" stroke-width="0.6" />
<text x="196.8" y="121.1" font-size="3.1" text-anchor="middle" fill="#1e1e1e" font-weight="normal" stroke="#1e1e1e" stroke-width="0.12" >100</text>
<line x1="196.8" y1="112.8" x2="196.8" y2="114.2" stroke="#707070" stroke-width="0.6" />
<text x="219.4" y="121.1" font-size="3.1" text-anchor="middle" fill="#1e1e1e" font-weight="normal" stroke="#1e1e1e" stroke-width="0.12" >150</text>
<line x1="219.4" y1="112.8" x2="219.4" y2="114.2" stroke="#707070" stroke-width="0.6" />
<text x="242" y="121.1" font-size="3.1" text-anchor="middle" fill="#1e1e1e" font-weight="normal" stroke="#1e1e1e" stroke-width="0.12" >200</text>
<line x1="242" y1="112.8" x2="242" y2="114.2" stroke="#707070" stroke-width="0.6" />
<text x="264.6" y="121.1" font-size="3.1" text-anchor="middle" fill="#1e1e1e" font-weight="normal" stroke="#1e1e1e" stroke-width="0.12" >250</text>
<line x1="264.6" y1="112.8" x2="264.6" y2="114.2" stroke="#707070" stroke-width="0.6" />
<text x="287.2" y="121.1" font-size="3.1" text-anchor="middle" fill="#1e1e1e" font-weight="normal" stroke="#1e1e1e" stroke-width="0.12" >300</text>
<line x1="287.2" y1="112.8" x2="287.2" y2="114.2" stroke="#707070" stroke-width="0.6" />
<text x="309.8" y="121.1" font-size="3.1" text-anchor="middle" fill="#1e1e1e" font-weight="normal" stroke="#1e1e1e" stroke-width="0.12" >350</text>
<line x1="309.8" y1="112.8" x2="309.8" y2="114.2" stroke="#707070" stroke-width="0.6" />
<text x="231.9" y="126.8" font-size="3.33" text-anchor="middle" fill="#1e1e1e" font-weight="normal" stroke="#1e1e1e" stroke-width="0.13" >Patients (increasing risk score)</text>
<text x="132.6" y="135.7" font-size="6.4" text-anchor="start" fill="#111" font-weight="bold" >E</text>
<path d="M153.4,142.6 L159.4,143.4 L168.9,148.4 L176.8,152.8 L183.9,153.7 L212.7,153.7 L212.7,153.9 L257.5,153.9 L257.5,186.3 L212.7,186.3 L212.7,168.8 L199.9,167.2 L199.9,164.8 L183.9,164.8 L176.8,160 L168.9,153 L159.4,145.4 L153.4,142.8 Z" fill="#3c82c8" fill-opacity="0.36" stroke="none"/>
<path d="M153.4,142.6 L157.9,147.6 L161.8,156.3 L165.7,163.2 L170.5,171 L174.4,174.3 L181.3,177.4 L192.3,180.4 L200.2,181 L204.8,182 L212.7,182 L212.7,179.5 L252,179.5 L252,190.3 L204.8,190.3 L200.2,187 L192.3,185.6 L181.3,182.6 L174.4,179 L170.5,175.8 L165.7,168 L161.8,160.8 L157.9,150.6 L153.4,142.8 Z" fill="#e83a44" fill-opacity="0.36" stroke="none"/>
<polyline points="153.4,142.6 155,143 157,143.8 159.4,144.3 162,146.2 165,148.4 168.9,150.6 171,152 174,154.6 177.6,156.9 180.7,158.2 183.9,159.7 199.9,159.7 199.9,163.2 212.7,163.2 212.7,176.4 257.5,176.4" stroke="#2c64b4" stroke-width="1.05" fill="none" stroke-linejoin="round" stroke-linecap="round" stroke-linejoin="miter"/>
<polyline points="153.4,142.6 155.5,145.2 157.9,149 159.8,153.6 161.8,158.5 163.6,162.2 165.7,165.6 168,169.6 170.5,173.4 174.4,176.6 178,178.4 181.3,180 186,181.4 192.3,183 200.2,183.9 202,185.8 204.8,187 252,187" stroke="#d41e28" stroke-width="1.05" fill="none" stroke-linejoin="round" stroke-linecap="round" />
<line x1="152.8" y1="169.4" x2="212" y2="169.4" stroke="#333" stroke-width="0.5" stroke-dasharray="0.9 0.9"/>
<line x1="167.7" y1="169.4" x2="167.7" y2="197.5" stroke="#333" stroke-width="0.5" stroke-dasharray="0.9 0.9"/>
<line x1="212" y1="169.4" x2="212" y2="197.5" stroke="#333" stroke-width="0.5" stroke-dasharray="0.9 0.9"/>
<line x1="148.6" y1="142.9" x2="148.6" y2="196.9" stroke="#707070" stroke-width="0.6" />
<line x1="152.8" y1="198" x2="261" y2="198" stroke="#707070" stroke-width="0.6" />
<text x="146.6" y="143.3" font-size="2.6" text-anchor="end" fill="#1e1e1e" font-weight="normal" stroke="#1e1e1e" stroke-width="0.1" >1.00</text>
<line x1="147.3" y1="142.9" x2="148.6" y2="142.9" stroke="#707070" stroke-width="0.5" />
<text x="146.6" y="156.75" font-size="2.6" text-anchor="end" fill="#1e1e1e" font-weight="normal" stroke="#1e1e1e" stroke-width="0.1" >0.75</text>
<line x1="147.3" y1="156.35" x2="148.6" y2="156.35" stroke="#707070" stroke-width="0.5" />
<text x="146.6" y="170.2" font-size="2.6" text-anchor="end" fill="#1e1e1e" font-weight="normal" stroke="#1e1e1e" stroke-width="0.1" >0.50</text>
<line x1="147.3" y1="169.8" x2="148.6" y2="169.8" stroke="#707070" stroke-width="0.5" />
<text x="146.6" y="183.65" font-size="2.6" text-anchor="end" fill="#1e1e1e" font-weight="normal" stroke="#1e1e1e" stroke-width="0.1" >0.25</text>
<line x1="147.3" y1="183.25" x2="148.6" y2="183.25" stroke="#707070" stroke-width="0.5" />
<text x="146.6" y="197.1" font-size="2.6" text-anchor="end" fill="#1e1e1e" font-weight="normal" stroke="#1e1e1e" stroke-width="0.1" >0.00</text>
<line x1="147.3" y1="196.7" x2="148.6" y2="196.7" stroke="#707070" stroke-width="0.5" />
<text x="138.8" y="170" font-size="2.8" text-anchor="middle" fill="#1e1e1e" font-weight="normal" stroke="#1e1e1e" stroke-width="0.11" transform="rotate(-90 138.8 170)" >Survival probability</text>
<text x="152.8" y="202.3" font-size="2.9" text-anchor="middle" fill="#1e1e1e" font-weight="normal" stroke="#1e1e1e" stroke-width="0.12" >0</text>
<line x1="152.8" y1="198" x2="152.8" y2="199.3" stroke="#707070" stroke-width="0.5" />
<text x="163.02" y="202.3" font-size="2.9" text-anchor="middle" fill="#1e1e1e" font-weight="normal" stroke="#1e1e1e" stroke-width="0.12" >1</text>
<line x1="163.02" y1="198" x2="163.02" y2="199.3" stroke="#707070" stroke-width="0.5" />
<text x="173.24" y="202.3" font-size="2.9" text-anchor="middle" fill="#1e1e1e" font-weight="normal" stroke="#1e1e1e" stroke-width="0.12" >2</text>
<line x1="173.24" y1="198" x2="173.24" y2="199.3" stroke="#707070" stroke-width="0.5" />
<text x="183.46" y="202.3" font-size="2.9" text-anchor="middle" fill="#1e1e1e" font-weight="normal" stroke="#1e1e1e" stroke-width="0.12" >3</text>
<line x1="183.46" y1="198" x2="183.46" y2="199.3" stroke="#707070" stroke-width="0.5" />
<text x="193.68" y="202.3" font-size="2.9" text-anchor="middle" fill="#1e1e1e" font-weight="normal" stroke="#1e1e1e" stroke-width="0.12" >4</text>
<line x1="193.68" y1="198" x2="193.68" y2="199.3" stroke="#707070" stroke-width="0.5" />
<text x="203.9" y="202.3" font-size="2.9" text-anchor="middle" fill="#1e1e1e" font-weight="normal" stroke="#1e1e1e" stroke-width="0.12" >5</text>
<line x1="203.9" y1="198" x2="203.9" y2="199.3" stroke="#707070" stroke-width="0.5" />
<text x="214.12" y="202.3" font-size="2.9" text-anchor="middle" fill="#1e1e1e" font-weight="normal" stroke="#1e1e1e" stroke-width="0.12" >6</text>
<line x1="214.12" y1="198" x2="214.12" y2="199.3" stroke="#707070" stroke-width="0.5" />
<text x="224.34" y="202.3" font-size="2.9" text-anchor="middle" fill="#1e1e1e" font-weight="normal" stroke="#1e1e1e" stroke-width="0.12" >7</text>
<line x1="224.34" y1="198" x2="224.34" y2="199.3" stroke="#707070" stroke-width="0.5" />
<text x="234.56" y="202.3" font-size="2.9" text-anchor="middle" fill="#1e1e1e" font-weight="normal" stroke="#1e1e1e" stroke-width="0.12" >8</text>
<line x1="234.56" y1="198" x2="234.56" y2="199.3" stroke="#707070" stroke-width="0.5" />
<text x="244.78" y="202.3" font-size="2.9" text-anchor="middle" fill="#1e1e1e" font-weight="normal" stroke="#1e1e1e" stroke-width="0.12" >9</text>
<line x1="244.78" y1="198" x2="244.78" y2="199.3" stroke="#707070" stroke-width="0.5" />
<text x="255" y="202.3" font-size="2.9" text-anchor="middle" fill="#1e1e1e" font-weight="normal" stroke="#1e1e1e" stroke-width="0.12" >10</text>
<line x1="255" y1="198" x2="255" y2="199.3" stroke="#707070" stroke-width="0.5" />
<text x="200.5" y="205.6" font-size="3.2" text-anchor="middle" fill="#1e1e1e" font-weight="normal" stroke="#1e1e1e" stroke-width="0.13" >Time(years)</text>
<text x="155" y="187" font-size="4.5" text-anchor="start" fill="#2a2a2a" font-weight="normal" stroke="#2a2a2a" stroke-width="0.1" >1.033e-14</text>
<rect x="231.6" y="143.5" width="15" height="16.2" stroke="none" stroke-width="0.5" fill="#ffffff" />
<text x="232.6" y="147.8" font-size="2.6" text-anchor="start" fill="#1e1e1e" font-weight="normal" stroke="#1e1e1e" stroke-width="0.1" >risk</text>
<rect x="232.6" y="149.9" width="3.3" height="2.4" stroke="none" stroke-width="0.5" fill="#e07a84" />
<line x1="232.6" y1="151.1" x2="235.9" y2="151.1" stroke="#c81e28" stroke-width="0.6" />
<text x="238.2" y="152.4" font-size="2.6" text-anchor="start" fill="#1e1e1e" font-weight="normal" stroke="#1e1e1e" stroke-width="0.1" >high</text>
<rect x="232.6" y="154.5" width="3.3" height="2.4" stroke="none" stroke-width="0.5" fill="#7aa2b4" />
<line x1="232.6" y1="155.7" x2="235.9" y2="155.7" stroke="#2c5a90" stroke-width="0.6" />
<text x="238.2" y="156.7" font-size="2.6" text-anchor="start" fill="#1e1e1e" font-weight="normal" stroke="#1e1e1e" stroke-width="0.1" >low</text>
<text x="147.9" y="212.7" font-size="4.1" text-anchor="start" fill="#1a1a1a" font-weight="normal" stroke="#1a1a1a" stroke-width="0.16" >Number at risk</text>
<text x="152.8" y="220.1" font-size="3.4" text-anchor="middle" fill="#222" font-weight="normal" stroke="#222" stroke-width="0.14" >175</text>
<text x="152.8" y="225.7" font-size="3.4" text-anchor="middle" fill="#222" font-weight="normal" stroke="#222" stroke-width="0.14" >175</text>
<text x="163.02" y="220.1" font-size="3.4" text-anchor="middle" fill="#222" font-weight="normal" stroke="#222" stroke-width="0.14" >81</text>
<text x="163.02" y="225.7" font-size="3.4" text-anchor="middle" fill="#222" font-weight="normal" stroke="#222" stroke-width="0.14" >143</text>
<text x="173.24" y="220.1" font-size="3.4" text-anchor="middle" fill="#222" font-weight="normal" stroke="#222" stroke-width="0.14" >38</text>
<text x="173.24" y="225.7" font-size="3.4" text-anchor="middle" fill="#222" font-weight="normal" stroke="#222" stroke-width="0.14" >44</text>
<text x="183.46" y="220.1" font-size="3.4" text-anchor="middle" fill="#222" font-weight="normal" stroke="#222" stroke-width="0.14" >20</text>
<text x="183.46" y="225.7" font-size="3.4" text-anchor="middle" fill="#222" font-weight="normal" stroke="#222" stroke-width="0.14" >27</text>
<text x="193.68" y="220.1" font-size="3.4" text-anchor="middle" fill="#222" font-weight="normal" stroke="#222" stroke-width="0.14" >9</text>
<text x="193.68" y="225.7" font-size="3.4" text-anchor="middle" fill="#222" font-weight="normal" stroke="#222" stroke-width="0.14" >14</text>
<text x="203.9" y="220.1" font-size="3.4" text-anchor="middle" fill="#222" font-weight="normal" stroke="#222" stroke-width="0.14" >3</text>
<text x="203.9" y="225.7" font-size="3.4" text-anchor="middle" fill="#222" font-weight="normal" stroke="#222" stroke-width="0.14" >8</text>
<text x="214.12" y="220.1" font-size="3.4" text-anchor="middle" fill="#222" font-weight="normal" stroke="#222" stroke-width="0.14" >3</text>
<text x="214.12" y="225.7" font-size="3.4" text-anchor="middle" fill="#222" font-weight="normal" stroke="#222" stroke-width="0.14" >4</text>
<text x="224.34" y="220.1" font-size="3.4" text-anchor="middle" fill="#222" font-weight="normal" stroke="#222" stroke-width="0.14" >1</text>
<text x="224.34" y="225.7" font-size="3.4" text-anchor="middle" fill="#222" font-weight="normal" stroke="#222" stroke-width="0.14" >2</text>
<text x="234.56" y="220.1" font-size="3.4" text-anchor="middle" fill="#222" font-weight="normal" stroke="#222" stroke-width="0.14" >1</text>
<text x="234.56" y="225.7" font-size="3.4" text-anchor="middle" fill="#222" font-weight="normal" stroke="#222" stroke-width="0.14" >2</text>
<text x="244.78" y="220.1" font-size="3.4" text-anchor="middle" fill="#222" font-weight="normal" stroke="#222" stroke-width="0.14" >1</text>
<text x="244.78" y="225.7" font-size="3.4" text-anchor="middle" fill="#222" font-weight="normal" stroke="#222" stroke-width="0.14" >2</text>
<text x="255" y="220.1" font-size="3.4" text-anchor="middle" fill="#222" font-weight="normal" stroke="#222" stroke-width="0.14" >0</text>
<text x="255" y="225.7" font-size="3.4" text-anchor="middle" fill="#222" font-weight="normal" stroke="#222" stroke-width="0.14" >1</text>
<text x="146.6" y="220" font-size="2.4" text-anchor="end" fill="#d41e28" font-weight="normal" stroke="#d41e28" stroke-width="0.1" >high</text>
<text x="146.6" y="225.6" font-size="2.4" text-anchor="end" fill="#2c64b4" font-weight="normal" stroke="#2c64b4" stroke-width="0.1" >low</text>
<text x="139.2" y="221.8" font-size="2.6" text-anchor="middle" fill="#1e1e1e" font-weight="normal" stroke="#1e1e1e" stroke-width="0.1" transform="rotate(-90 139.2 221.8)" >risk</text>
<line x1="148.6" y1="215.8" x2="148.6" y2="228.2" stroke="#707070" stroke-width="0.6" />
<line x1="152.8" y1="228.2" x2="261" y2="228.2" stroke="#707070" stroke-width="0.6" />
<text x="152.8" y="232.2" font-size="2.9" text-anchor="middle" fill="#1e1e1e" font-weight="normal" stroke="#1e1e1e" stroke-width="0.12" >0</text>
<line x1="152.8" y1="228.2" x2="152.8" y2="229.4" stroke="#707070" stroke-width="0.5" />
<text x="163.02" y="232.2" font-size="2.9" text-anchor="middle" fill="#1e1e1e" font-weight="normal" stroke="#1e1e1e" stroke-width="0.12" >1</text>
<line x1="163.02" y1="228.2" x2="163.02" y2="229.4" stroke="#707070" stroke-width="0.5" />
<text x="173.24" y="232.2" font-size="2.9" text-anchor="middle" fill="#1e1e1e" font-weight="normal" stroke="#1e1e1e" stroke-width="0.12" >2</text>
<line x1="173.24" y1="228.2" x2="173.24" y2="229.4" stroke="#707070" stroke-width="0.5" />
<text x="183.46" y="232.2" font-size="2.9" text-anchor="middle" fill="#1e1e1e" font-weight="normal" stroke="#1e1e1e" stroke-width="0.12" >3</text>
<line x1="183.46" y1="228.2" x2="183.46" y2="229.4" stroke="#707070" stroke-width="0.5" />
<text x="193.68" y="232.2" font-size="2.9" text-anchor="middle" fill="#1e1e1e" font-weight="normal" stroke="#1e1e1e" stroke-width="0.12" >4</text>
<line x1="193.68" y1="228.2" x2="193.68" y2="229.4" stroke="#707070" stroke-width="0.5" />
<text x="203.9" y="232.2" font-size="2.9" text-anchor="middle" fill="#1e1e1e" font-weight="normal" stroke="#1e1e1e" stroke-width="0.12" >5</text>
<line x1="203.9" y1="228.2" x2="203.9" y2="229.4" stroke="#707070" stroke-width="0.5" />
<text x="214.12" y="232.2" font-size="2.9" text-anchor="middle" fill="#1e1e1e" font-weight="normal" stroke="#1e1e1e" stroke-width="0.12" >6</text>
<line x1="214.12" y1="228.2" x2="214.12" y2="229.4" stroke="#707070" stroke-width="0.5" />
<text x="224.34" y="232.2" font-size="2.9" text-anchor="middle" fill="#1e1e1e" font-weight="normal" stroke="#1e1e1e" stroke-width="0.12" >7</text>
<line x1="224.34" y1="228.2" x2="224.34" y2="229.4" stroke="#707070" stroke-width="0.5" />
<text x="234.56" y="232.2" font-size="2.9" text-anchor="middle" fill="#1e1e1e" font-weight="normal" stroke="#1e1e1e" stroke-width="0.12" >8</text>
<line x1="234.56" y1="228.2" x2="234.56" y2="229.4" stroke="#707070" stroke-width="0.5" />
<text x="244.78" y="232.2" font-size="2.9" text-anchor="middle" fill="#1e1e1e" font-weight="normal" stroke="#1e1e1e" stroke-width="0.12" >9</text>
<line x1="244.78" y1="228.2" x2="244.78" y2="229.4" stroke="#707070" stroke-width="0.5" />
<text x="255" y="232.2" font-size="2.9" text-anchor="middle" fill="#1e1e1e" font-weight="normal" stroke="#1e1e1e" stroke-width="0.12" >10</text>
<line x1="255" y1="228.2" x2="255" y2="229.4" stroke="#707070" stroke-width="0.5" />
<text x="200.5" y="235.7" font-size="3.2" text-anchor="middle" fill="#1e1e1e" font-weight="normal" stroke="#1e1e1e" stroke-width="0.13" >Time(years)</text>
<text x="264" y="134.8" font-size="6.4" text-anchor="start" fill="#111" font-weight="bold" >F</text>
<line x1="284.2" y1="230.1" x2="384.3" y2="138.6" stroke="#8a8a8a" stroke-width="0.7" />
<polyline points="284.4,229.5 284.4,211.3 284.9,210.56 285.58,209.54 286.39,208.34 287.27,207.03 288.16,205.72 289,204.5 289.81,203.34 290.64,202.16 291.48,200.98 292.32,199.8 293.16,198.64 294,197.5 294.84,196.37 295.69,195.23 296.53,194.11 297.37,193.01 298.2,191.97 299,191 299.75,190.14 300.44,189.4 301.11,188.71 301.82,188 302.6,187.22 303.5,186.3 304.5,185.24 305.57,184.09 306.71,182.86 307.93,181.58 309.26,180.25 310.7,178.9 312.35,177.46 314.22,175.9 316.19,174.3 318.14,172.73 319.95,171.28 321.5,170 322.68,169 323.57,168.23 324.32,167.57 325.09,166.89 326.03,166.08 327.3,165 328.96,163.57 330.9,161.87 333.02,160.03 335.21,158.19 337.37,156.46 339.4,155 341.31,153.8 343.18,152.77 345.02,151.87 346.84,151.05 348.67,150.27 350.5,149.5 352.34,148.76 354.19,148.08 356.04,147.45 357.87,146.84 359.7,146.23 361.5,145.6 363.26,144.95 364.97,144.29 366.67,143.62 368.39,142.97 370.15,142.33 372,141.7 374.09,141.05 376.42,140.37 378.81,139.71 381.04,139.09 382.94,138.58 384.3,138.2" stroke="#5a96d0" stroke-width="0.75" fill="none" stroke-linejoin="round" stroke-linecap="round" />
<polyline points="284.4,229.5 284.4,219 284.78,218.34 285.3,217.43 285.92,216.35 286.6,215.19 287.31,214.05 288,213 288.71,212.02 289.47,211.01 290.26,210.03 291.04,209.07 291.8,208.19 292.5,207.4 293.14,206.74 293.74,206.18 294.32,205.69 294.88,205.23 295.43,204.75 296,204.2 296.58,203.64 297.16,203.1 297.74,202.54 298.31,201.91 298.87,201.18 299.4,200.3 299.9,199.25 300.38,198.05 300.84,196.75 301.3,195.37 301.75,193.94 302.2,192.5 302.64,190.97 303.06,189.33 303.47,187.64 303.9,185.97 304.37,184.4 304.9,183 305.48,181.8 306.11,180.74 306.77,179.78 307.47,178.87 308.21,177.96 309,177 309.85,175.99 310.76,174.98 311.72,173.97 312.69,172.96 313.66,171.97 314.6,171 315.49,170.08 316.36,169.2 317.21,168.34 318.09,167.46 319.01,166.53 320,165.5 321.01,164.39 322.01,163.21 323.06,161.99 324.21,160.71 325.5,159.38 327,158 328.77,156.49 330.78,154.83 332.94,153.12 335.16,151.47 337.35,149.96 339.4,148.7 341.33,147.73 343.2,146.97 345.04,146.36 346.86,145.84 348.67,145.34 350.5,144.8 352.34,144.23 354.19,143.67 356.04,143.14 357.87,142.63 359.7,142.15 361.5,141.7 363.26,141.28 364.97,140.9 366.67,140.54 368.39,140.21 370.15,139.9 372,139.6 374.09,139.31 376.42,139.03 378.81,138.77 381.04,138.54 382.94,138.34 384.3,138.2" stroke="#3c9e58" stroke-width="0.75" fill="none" stroke-linejoin="round" stroke-linecap="round" />
<polyline points="284.4,229.5 284.4,211.3 284.9,210.56 285.58,209.54 286.39,208.34 287.27,207.03 288.16,205.72 289,204.5 289.81,203.34 290.64,202.17 291.48,200.99 292.32,199.82 293.16,198.65 294,197.5 294.84,196.35 295.69,195.19 296.53,194.04 297.37,192.92 298.2,191.83 299,190.8 299.77,189.87 300.5,189.03 301.22,188.23 301.94,187.41 302.7,186.52 303.5,185.5 304.36,184.31 305.26,183 306.18,181.61 307.12,180.19 308.07,178.81 309,177.5 309.93,176.27 310.87,175.06 311.81,173.89 312.74,172.74 313.68,171.61 314.6,170.5 315.49,169.44 316.34,168.44 317.19,167.46 318.07,166.47 318.99,165.43 320,164.3 321.05,163.11 322.11,161.89 323.23,160.62 324.44,159.28 325.78,157.85 327.3,156.3 329.05,154.52 331.01,152.51 333.11,150.4 335.26,148.35 337.39,146.5 339.4,145 341.31,143.88 343.18,143.04 345.02,142.39 346.84,141.89 348.67,141.44 350.5,141 352.34,140.58 354.19,140.25 356.04,139.99 357.87,139.77 359.7,139.58 361.5,139.4 363.26,139.24 364.97,139.13 366.67,139.04 368.39,138.96 370.15,138.89 372,138.8 374.09,138.69 376.42,138.58 378.81,138.46 381.04,138.36 382.94,138.27 384.3,138.2" stroke="#dc5048" stroke-width="0.75" fill="none" stroke-linejoin="round" stroke-linecap="round" />
<rect x="280.3" y="135.5" width="108" height="98.7" stroke="#8a8a8a" stroke-width="0.7" fill="none" />
<text x="275.8" y="230.1" font-size="2.6" text-anchor="middle" fill="#1e1e1e" font-weight="normal" stroke="#1e1e1e" stroke-width="0.1" transform="rotate(-90 275.8 230.1)" >0.0</text>
<line x1="278.5" y1="230.1" x2="280.3" y2="230.1" stroke="#707070" stroke-width="0.5" />
<text x="284.2" y="240" font-size="2.6" text-anchor="middle" fill="#1e1e1e" font-weight="normal" stroke="#1e1e1e" stroke-width="0.1" >0.0</text>
<line x1="284.2" y1="234.2" x2="284.2" y2="235.5" stroke="#707070" stroke-width="0.5" />
<text x="275.8" y="211.8" font-size="2.6" text-anchor="middle" fill="#1e1e1e" font-weight="normal" stroke="#1e1e1e" stroke-width="0.1" transform="rotate(-90 275.8 211.8)" >0.2</text>
<line x1="278.5" y1="211.8" x2="280.3" y2="211.8" stroke="#707070" stroke-width="0.5" />
<text x="304.22" y="240" font-size="2.6" text-anchor="middle" fill="#1e1e1e" font-weight="normal" stroke="#1e1e1e" stroke-width="0.1" >0.2</text>
<line x1="304.22" y1="234.2" x2="304.22" y2="235.5" stroke="#707070" stroke-width="0.5" />
<text x="275.8" y="193.5" font-size="2.6" text-anchor="middle" fill="#1e1e1e" font-weight="normal" stroke="#1e1e1e" stroke-width="0.1" transform="rotate(-90 275.8 193.5)" >0.4</text>
<line x1="278.5" y1="193.5" x2="280.3" y2="193.5" stroke="#707070" stroke-width="0.5" />
<text x="324.24" y="240" font-size="2.6" text-anchor="middle" fill="#1e1e1e" font-weight="normal" stroke="#1e1e1e" stroke-width="0.1" >0.4</text>
<line x1="324.24" y1="234.2" x2="324.24" y2="235.5" stroke="#707070" stroke-width="0.5" />
<text x="275.8" y="175.2" font-size="2.6" text-anchor="middle" fill="#1e1e1e" font-weight="normal" stroke="#1e1e1e" stroke-width="0.1" transform="rotate(-90 275.8 175.2)" >0.6</text>
<line x1="278.5" y1="175.2" x2="280.3" y2="175.2" stroke="#707070" stroke-width="0.5" />
<text x="344.26" y="240" font-size="2.6" text-anchor="middle" fill="#1e1e1e" font-weight="normal" stroke="#1e1e1e" stroke-width="0.1" >0.6</text>
<line x1="344.26" y1="234.2" x2="344.26" y2="235.5" stroke="#707070" stroke-width="0.5" />
<text x="275.8" y="156.9" font-size="2.6" text-anchor="middle" fill="#1e1e1e" font-weight="normal" stroke="#1e1e1e" stroke-width="0.1" transform="rotate(-90 275.8 156.9)" >0.8</text>
<line x1="278.5" y1="156.9" x2="280.3" y2="156.9" stroke="#707070" stroke-width="0.5" />
<text x="364.28" y="240" font-size="2.6" text-anchor="middle" fill="#1e1e1e" font-weight="normal" stroke="#1e1e1e" stroke-width="0.1" >0.8</text>
<line x1="364.28" y1="234.2" x2="364.28" y2="235.5" stroke="#707070" stroke-width="0.5" />
<text x="275.8" y="138.6" font-size="2.6" text-anchor="middle" fill="#1e1e1e" font-weight="normal" stroke="#1e1e1e" stroke-width="0.1" transform="rotate(-90 275.8 138.6)" >1.0</text>
<line x1="278.5" y1="138.6" x2="280.3" y2="138.6" stroke="#707070" stroke-width="0.5" />
<text x="384.3" y="240" font-size="2.6" text-anchor="middle" fill="#1e1e1e" font-weight="normal" stroke="#1e1e1e" stroke-width="0.1" >1.0</text>
<line x1="384.3" y1="234.2" x2="384.3" y2="235.5" stroke="#707070" stroke-width="0.5" />
<text x="268.8" y="185" font-size="2.7" text-anchor="middle" fill="#1e1e1e" font-weight="normal" stroke="#1e1e1e" stroke-width="0.11" transform="rotate(-90 268.8 185)" >True positive rate</text>
<text x="334" y="246.4" font-size="2.7" text-anchor="middle" fill="#1e1e1e" font-weight="normal" stroke="#1e1e1e" stroke-width="0.11" >False positive rate</text>
<rect x="354.5" y="220.2" width="33.8" height="14" stroke="#888" stroke-width="0.5" fill="#fff" />
<text x="375.5" y="223.4" font-size="1.9" text-anchor="middle" fill="#1e1e1e" font-weight="normal" stroke="#1e1e1e" stroke-width="0.08" >AUC (95%CI)</text>
<line x1="355.3" y1="226" x2="359.5" y2="226" stroke="#d8443c" stroke-width="0.6" />
<text x="361.2" y="226.65" font-size="1.75" text-anchor="start" fill="#1e1e1e" font-weight="normal" stroke="#1e1e1e" stroke-width="0.07" >1-Year AUC 0.771 (0.719-0.823)</text>
<line x1="355.3" y1="228.4" x2="359.5" y2="228.4" stroke="#2f9a4a" stroke-width="0.6" />
<text x="361.2" y="229.05" font-size="1.75" text-anchor="start" fill="#1e1e1e" font-weight="normal" stroke="#1e1e1e" stroke-width="0.07" >3-Year AUC 0.728 (0.650-0.806)</text>
<line x1="355.3" y1="230.8" x2="359.5" y2="230.8" stroke="#4a86c6" stroke-width="0.6" />
<text x="361.2" y="231.45" font-size="1.75" text-anchor="start" fill="#1e1e1e" font-weight="normal" stroke="#1e1e1e" stroke-width="0.07" >5-Year AUC 0.746 (0.664-0.828)</text>
<text x="317.8" y="5.2" font-size="5.6" text-anchor="start" fill="#1a1a1a" font-weight="bold" >G</text>
<line x1="327.2" y1="33.9" x2="337.8" y2="50.6" stroke="#3a3a3a" stroke-width="0.7" />
<line x1="337.8" y1="50.6" x2="357.9" y2="34.6" stroke="#3a3a3a" stroke-width="0.7" />
<line x1="327.2" y1="33.9" x2="357.9" y2="34.6" stroke="#c0c0c0" stroke-width="0.45" />
<line x1="344.1" y1="23.2" x2="368.7" y2="19.1" stroke="#909090" stroke-width="0.5" />
<line x1="337.8" y1="50.6" x2="336.3" y2="69.5" stroke="#606070" stroke-width="0.6" />
<line x1="356.9" y1="54.8" x2="378" y2="49" stroke="#c8b8a0" stroke-width="0.45" />
<line x1="356.9" y1="54.8" x2="385.4" y2="64.6" stroke="#806868" stroke-width="0.6" />
<line x1="385.4" y1="77" x2="366" y2="88.6" stroke="#3a3a3a" stroke-width="0.7" />
<line x1="358.3" y1="75" x2="366" y2="88.6" stroke="#b0b0b0" stroke-width="0.45" />
<line x1="347.1" y1="84.3" x2="335.7" y2="102.6" stroke="#b0b0b0" stroke-width="0.45" />
<line x1="347.1" y1="84.3" x2="355" y2="106.6" stroke="#b0b0b0" stroke-width="0.45" />
<line x1="335.7" y1="102.6" x2="355" y2="106.6" stroke="#3a3a3a" stroke-width="0.7" />
<circle cx="322.9" cy="22" r="3.75" fill="#cdd3ab" stroke="#7f8463" stroke-width="0.9"/>
<circle cx="323.2" cy="22.2" r="2.1" fill="none" stroke="#9ea47b" stroke-opacity="0.55" stroke-width="0.8"/>
<text x="326.5" y="18.3" font-size="2.15" text-anchor="start" fill="#1a1a1a" font-weight="normal" stroke="#1a1a1a" stroke-width="0.09" >WNK4</text>
<circle cx="327.2" cy="33.9" r="3.75" fill="#a0c4c6" stroke="#5a7879" stroke-width="0.9"/>
<circle cx="327.5" cy="34.1" r="2.1" fill="none" stroke="#709596" stroke-opacity="0.55" stroke-width="0.8"/>
<text x="330.8" y="30.2" font-size="2.15" text-anchor="start" fill="#1a1a1a" font-weight="normal" stroke="#1a1a1a" stroke-width="0.09" >PDGFB</text>
<circle cx="344.1" cy="23.2" r="3.75" fill="#a0c4b3" stroke="#5a7869" stroke-width="0.9"/>
<circle cx="344.4" cy="23.4" r="2.1" fill="none" stroke="#709583" stroke-opacity="0.55" stroke-width="0.8"/>
<text x="347.7" y="19.5" font-size="2.15" text-anchor="start" fill="#1a1a1a" font-weight="normal" stroke="#1a1a1a" stroke-width="0.09" >SLCO2A1</text>
<circle cx="368.7" cy="19.1" r="3.75" fill="#a7c6bd" stroke="#5f7972" stroke-width="0.9"/>
<circle cx="369" cy="19.3" r="2.1" fill="none" stroke="#76968d" stroke-opacity="0.55" stroke-width="0.8"/>
<text x="372.3" y="15.4" font-size="2.15" text-anchor="start" fill="#1a1a1a" font-weight="normal" stroke="#1a1a1a" stroke-width="0.09" >TNFAIP8L3</text>
<circle cx="357.9" cy="34.6" r="3.75" fill="#dbc0ab" stroke="#8a7463" stroke-width="0.9"/>
<circle cx="358.2" cy="34.8" r="2.1" fill="none" stroke="#ac917a" stroke-opacity="0.55" stroke-width="0.8"/>
<text x="361.5" y="30.9" font-size="2.15" text-anchor="start" fill="#1a1a1a" font-weight="normal" stroke="#1a1a1a" stroke-width="0.09" >WNT2</text>
<circle cx="337.8" cy="50.6" r="3.75" fill="#dab6a9" stroke="#896c61" stroke-width="0.9"/>
<circle cx="338.1" cy="50.8" r="2.1" fill="none" stroke="#ab8679" stroke-opacity="0.55" stroke-width="0.8"/>
<text x="341.4" y="46.9" font-size="2.15" text-anchor="start" fill="#1a1a1a" font-weight="normal" stroke="#1a1a1a" stroke-width="0.09" >NOTCH3</text>
<circle cx="336.3" cy="69.5" r="3.75" fill="#dbbcb3" stroke="#8b7169" stroke-width="0.9"/>
<circle cx="336.6" cy="69.7" r="2.1" fill="none" stroke="#ad8d83" stroke-opacity="0.55" stroke-width="0.8"/>
<text x="339.9" y="65.8" font-size="2.15" text-anchor="start" fill="#1a1a1a" font-weight="normal" stroke="#1a1a1a" stroke-width="0.09" >MMP2</text>
<circle cx="356.9" cy="54.8" r="3.75" fill="#dcc6b4" stroke="#8b796a" stroke-width="0.9"/>
<circle cx="357.2" cy="55" r="2.1" fill="none" stroke="#ad9684" stroke-opacity="0.55" stroke-width="0.8"/>
<text x="360.5" y="51.1" font-size="2.15" text-anchor="start" fill="#1a1a1a" font-weight="normal" stroke="#1a1a1a" stroke-width="0.09" >NHS</text>
<circle cx="378" cy="49" r="3.75" fill="#d9cbb9" stroke="#897e6e" stroke-width="0.9"/>
<circle cx="378.3" cy="49.2" r="2.1" fill="none" stroke="#aa9c89" stroke-opacity="0.55" stroke-width="0.8"/>
<text x="381.6" y="45.3" font-size="2.15" text-anchor="start" fill="#1a1a1a" font-weight="normal" stroke="#1a1a1a" stroke-width="0.09" >NOTCH4</text>
<circle cx="385.4" cy="64.6" r="3.75" fill="#dab6ad" stroke="#896c64" stroke-width="0.9"/>
<circle cx="385.7" cy="64.8" r="2.1" fill="none" stroke="#ab867d" stroke-opacity="0.55" stroke-width="0.8"/>
<text x="389" y="60.9" font-size="2.15" text-anchor="start" fill="#1a1a1a" font-weight="normal" stroke="#1a1a1a" stroke-width="0.09" >FGF10</text>
<circle cx="358.3" cy="75" r="3.75" fill="#bbd2b7" stroke="#70836c" stroke-width="0.9"/>
<circle cx="358.6" cy="75.2" r="2.1" fill="none" stroke="#8ca387" stroke-opacity="0.55" stroke-width="0.8"/>
<text x="361.9" y="71.3" font-size="2.15" text-anchor="start" fill="#1a1a1a" font-weight="normal" stroke="#1a1a1a" stroke-width="0.09" >ANGPTL7</text>
<circle cx="385.4" cy="77" r="3.75" fill="#b4b8d1" stroke="#6a6e82" stroke-width="0.9"/>
<circle cx="385.7" cy="77.2" r="2.1" fill="none" stroke="#8488a2" stroke-opacity="0.55" stroke-width="0.8"/>
<text x="389" y="73.3" font-size="2.15" text-anchor="start" fill="#1a1a1a" font-weight="normal" stroke="#1a1a1a" stroke-width="0.09" >ADRB1</text>
<circle cx="366" cy="88.6" r="3.75" fill="#c3d7ae" stroke="#768765" stroke-width="0.9"/>
<circle cx="366.3" cy="88.8" r="2.1" fill="none" stroke="#93a87e" stroke-opacity="0.55" stroke-width="0.8"/>
<text x="369.6" y="84.9" font-size="2.15" text-anchor="start" fill="#1a1a1a" font-weight="normal" stroke="#1a1a1a" stroke-width="0.09" >GUCY</text>
<circle cx="347.1" cy="84.3" r="3.75" fill="#b6d0b1" stroke="#6c8268" stroke-width="0.9"/>
<circle cx="347.4" cy="84.5" r="2.1" fill="none" stroke="#86a181" stroke-opacity="0.55" stroke-width="0.8"/>
<text x="350.7" y="80.6" font-size="2.15" text-anchor="start" fill="#1a1a1a" font-weight="normal" stroke="#1a1a1a" stroke-width="0.09" >ELK3</text>
<circle cx="335.7" cy="102.6" r="3.75" fill="#cbd0af" stroke="#7e8266" stroke-width="0.9"/>
<circle cx="336" cy="102.8" r="2.1" fill="none" stroke="#9ca17f" stroke-opacity="0.55" stroke-width="0.8"/>
<text x="339.3" y="98.9" font-size="2.15" text-anchor="start" fill="#1a1a1a" font-weight="normal" stroke="#1a1a1a" stroke-width="0.09" >EGR1</text>
<circle cx="355" cy="106.6" r="3.75" fill="#bdcfdf" stroke="#72808d" stroke-width="0.9"/>
<circle cx="355.3" cy="106.8" r="2.1" fill="none" stroke="#8d9fb0" stroke-opacity="0.55" stroke-width="0.8"/>
<text x="358.6" y="102.9" font-size="2.15" text-anchor="start" fill="#1a1a1a" font-weight="normal" stroke="#1a1a1a" stroke-width="0.09" >NR4A1</text>
</svg>
</body></html>
